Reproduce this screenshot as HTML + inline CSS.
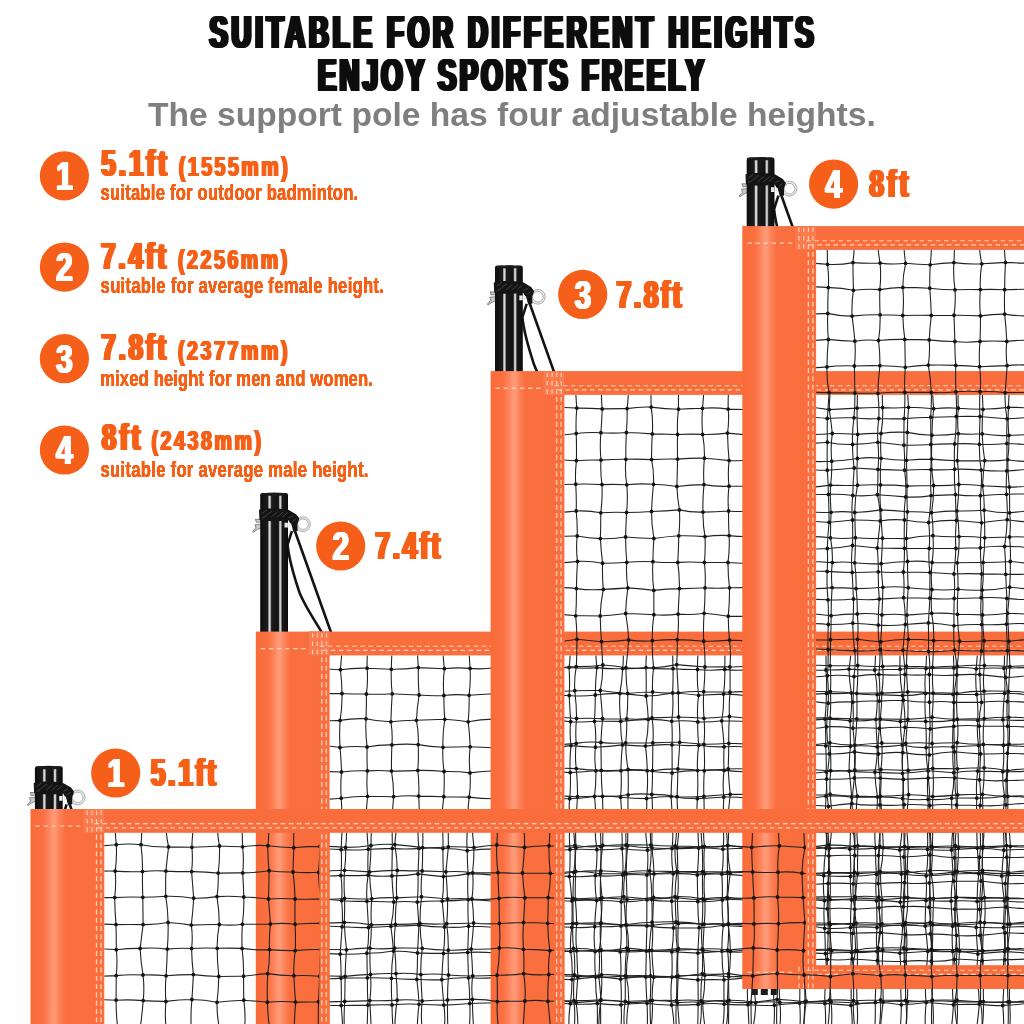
<!DOCTYPE html>
<html lang="en"><head><meta charset="utf-8"><title>Suitable for different heights</title>
<style>
html,body{margin:0;padding:0;background:#fff}
body{width:1024px;height:1024px;overflow:hidden}
svg{display:block}
text{font-family:"Liberation Sans",sans-serif;font-weight:700}
.ttl{fill:#0b0b0b}
.sub{fill:#7f7f7f}
.big{fill:#F65F19}
.desc{fill:#F65F19}
.num{fill:#fff;text-anchor:middle}
.ml{fill:none;stroke:#222;stroke-width:1.1}
.mk{fill:none;stroke:#141414;stroke-width:3.8;stroke-linecap:round}
.st{fill:none;stroke:#FFD6C2;stroke-width:1.15;stroke-dasharray:4.4 3.7}
.sv{fill:none;stroke:#FFD6C2;stroke-width:1.25;stroke-dasharray:4.9 3.4}
.sc{fill:none;stroke:#FFD6C2;stroke-width:1.1}
</style></head>
<body>
<svg width="1024" height="1024" viewBox="0 0 1024 1024">
<defs>
<clipPath id="c1"><rect x="329.6" y="655.4" width="694.4" height="368.6"/></clipPath>
<clipPath id="p1"><rect x="235.8" y="488.4" width="140" height="144.2"/></clipPath>
<clipPath id="c2"><rect x="564.4" y="394.9" width="459.6" height="629.1"/></clipPath>
<clipPath id="p2"><rect x="470.6" y="261" width="140" height="111.1"/></clipPath>
<clipPath id="c3"><rect x="816.1" y="249.9" width="207.9" height="715.3"/></clipPath>
<clipPath id="p3"><rect x="722.3" y="152.9" width="140" height="74.2"/></clipPath>
<clipPath id="c4"><rect x="104.3" y="832.8" width="919.7" height="191.2"/></clipPath>
<clipPath id="p4"><rect x="10.5" y="761.6" width="140" height="48.4"/></clipPath>
<linearGradient id="sg1" gradientUnits="userSpaceOnUse" x1="30.5" y1="0" x2="104.3" y2="0"><stop offset="0" stop-color="#F96B39"/><stop offset="0.17" stop-color="#FA7041"/><stop offset="0.25" stop-color="#FD855D"/><stop offset="0.30" stop-color="#FF9875"/><stop offset="0.335" stop-color="#FF9875"/><stop offset="0.39" stop-color="#FC8259"/><stop offset="0.47" stop-color="#FA6F3F"/><stop offset="1" stop-color="#FA6E3D"/></linearGradient>
<linearGradient id="sg2" gradientUnits="userSpaceOnUse" x1="255.8" y1="0" x2="329.6" y2="0"><stop offset="0" stop-color="#F96B39"/><stop offset="0.17" stop-color="#FA7041"/><stop offset="0.25" stop-color="#FD855D"/><stop offset="0.30" stop-color="#FF9875"/><stop offset="0.335" stop-color="#FF9875"/><stop offset="0.39" stop-color="#FC8259"/><stop offset="0.47" stop-color="#FA6F3F"/><stop offset="1" stop-color="#FA6E3D"/></linearGradient>
<linearGradient id="sg3" gradientUnits="userSpaceOnUse" x1="490.6" y1="0" x2="564.4" y2="0"><stop offset="0" stop-color="#F96B39"/><stop offset="0.17" stop-color="#FA7041"/><stop offset="0.25" stop-color="#FD855D"/><stop offset="0.30" stop-color="#FF9875"/><stop offset="0.335" stop-color="#FF9875"/><stop offset="0.39" stop-color="#FC8259"/><stop offset="0.47" stop-color="#FA6F3F"/><stop offset="1" stop-color="#FA6E3D"/></linearGradient>
<linearGradient id="sg4" gradientUnits="userSpaceOnUse" x1="742.3" y1="0" x2="816.1" y2="0"><stop offset="0" stop-color="#F96B39"/><stop offset="0.17" stop-color="#FA7041"/><stop offset="0.25" stop-color="#FD855D"/><stop offset="0.30" stop-color="#FF9875"/><stop offset="0.335" stop-color="#FF9875"/><stop offset="0.39" stop-color="#FC8259"/><stop offset="0.47" stop-color="#FA6F3F"/><stop offset="1" stop-color="#FA6E3D"/></linearGradient>
<linearGradient id="pg" x1="0" y1="0" x2="1" y2="0"><stop offset="0" stop-color="#0e0e0e"/><stop offset=".27" stop-color="#1b1b1b"/><stop offset=".32" stop-color="#d9d9d9"/><stop offset=".355" stop-color="#d9d9d9"/><stop offset=".41" stop-color="#1b1b1b"/><stop offset=".655" stop-color="#111"/><stop offset=".705" stop-color="#cfcfcf"/><stop offset=".74" stop-color="#cfcfcf"/><stop offset=".79" stop-color="#1a1a1a"/><stop offset="1" stop-color="#0b0b0b"/></linearGradient>
<g id="pole">
<path d="M36.1 38.8L31.8 52.2C33 66 37 80 43.2 98.8C47 110 56 124 65.7 139.3L92 187" fill="none" stroke="#141414" stroke-width="2.6" stroke-linejoin="round"/>
<path d="M39.2 38.8L75 139.3L102 215" fill="none" stroke="#141414" stroke-width="2.6"/>
<circle cx="47.2" cy="31.8" r="6.4" fill="none" stroke="#ededed" stroke-width="2.2"/>
<circle cx="47.2" cy="31.8" r="7.4" fill="none" stroke="#8c8c8c" stroke-width=".7"/>
<circle cx="47.2" cy="31.8" r="5.3" fill="none" stroke="#8c8c8c" stroke-width=".7"/>
<path d="M-.4 26.8l5.6.4v2.4l-4.6.3z M-.8 32.2l6-.4.2 3.8-3.6 1.4-4.4 3-.7-.9 3.4-3.6z" fill="#c9c9c9" stroke="#5e5e5e" stroke-width=".7"/>
<rect x="4.4" y=".6" width="27.8" height="250" rx="2.2" fill="url(#pg)"/>
<ellipse cx="18.3" cy="1.9" rx="13.2" ry="1.7" fill="#1a1a1a"/>
<path d="M3.2 17.4C10 15.4 26 15.6 33 17.6L40.5 22 43.6 26.2 41.6 31.5 41.8 38.6 37.5 39.5 36 33.5 32.4 27.6C24 29.2 10 29.4 3.6 27.4z" fill="#141414"/>
<path d="M6 21l5-3.4M10.5 23l6-4.6M15.5 24.6l6.4-5.2M21 25l6.4-5.4M26.5 24.6l5.6-4.6M6 26l4.4-2.6M33 25.4l4.6-2M36.8 29l3.6-2.4" fill="none" stroke="#474747" stroke-width=".9"/>
<path d="M28.7 30.4h3.4v4.8h-3.4z M33.1 31.2h2.5v3.2h-2.5z" fill="#e9e9e9"/>
</g>
<filter id="idf" x="-2%" y="-20%" width="104%" height="140%"><feOffset dx="0" dy="0"/></filter>
<filter id="fat40" x="-25%" y="-10%" width="150%" height="120%"><feOffset in="SourceGraphic" dx="-0.4" result="a"/><feOffset in="SourceGraphic" dx="-0.2" result="b"/><feOffset in="SourceGraphic" dx="0.2" result="c"/><feOffset in="SourceGraphic" dx="0.4" result="d"/><feMerge><feMergeNode in="a"/><feMergeNode in="b"/><feMergeNode in="SourceGraphic"/><feMergeNode in="c"/><feMergeNode in="d"/></feMerge></filter>
<filter id="fat90" x="-25%" y="-10%" width="150%" height="120%"><feOffset in="SourceGraphic" dx="-0.9" result="a"/><feOffset in="SourceGraphic" dx="-0.45" result="b"/><feOffset in="SourceGraphic" dx="0.45" result="c"/><feOffset in="SourceGraphic" dx="0.9" result="d"/><feMerge><feMergeNode in="a"/><feMergeNode in="b"/><feMergeNode in="SourceGraphic"/><feMergeNode in="c"/><feMergeNode in="d"/></feMerge></filter>
<filter id="fat100" x="-25%" y="-10%" width="150%" height="120%"><feOffset in="SourceGraphic" dx="-1" result="a"/><feOffset in="SourceGraphic" dx="-0.5" result="b"/><feOffset in="SourceGraphic" dx="0.5" result="c"/><feOffset in="SourceGraphic" dx="1" result="d"/><feMerge><feMergeNode in="a"/><feMergeNode in="b"/><feMergeNode in="SourceGraphic"/><feMergeNode in="c"/><feMergeNode in="d"/></feMerge></filter>
<filter id="fat150" x="-25%" y="-10%" width="150%" height="120%"><feOffset in="SourceGraphic" dx="-1.5" result="a"/><feOffset in="SourceGraphic" dx="-0.75" result="b"/><feOffset in="SourceGraphic" dx="0.75" result="c"/><feOffset in="SourceGraphic" dx="1.5" result="d"/><feMerge><feMergeNode in="a"/><feMergeNode in="b"/><feMergeNode in="SourceGraphic"/><feMergeNode in="c"/><feMergeNode in="d"/></feMerge></filter>
<filter id="fat180" x="-25%" y="-10%" width="150%" height="120%"><feOffset in="SourceGraphic" dx="-1.8" result="a"/><feOffset in="SourceGraphic" dx="-0.9" result="b"/><feOffset in="SourceGraphic" dx="0.9" result="c"/><feOffset in="SourceGraphic" dx="1.8" result="d"/><feMerge><feMergeNode in="a"/><feMergeNode in="b"/><feMergeNode in="SourceGraphic"/><feMergeNode in="c"/><feMergeNode in="d"/></feMerge></filter>
</defs>
<rect width="1024" height="1024" fill="#fff"/>
<g clip-path="url(#p1)"><use href="#pole" x="255.8" y="492.4"/></g>
<g clip-path="url(#c1)"><path class="ml" d="M343 643.4Q341.4 656.6 340.4 669.7Q341.9 681.6 342 693.5Q342.3 706.9 340.1 720.4Q339.2 733.9 340 747.5Q341.2 759.7 341.5 772Q340.3 785.1 341.2 798.2Q341.8 810.5 342.8 822.9Q341.5 836.2 341.1 849.6Q342 862.5 340.9 875.4Q342.6 888 341.6 900.7Q343 913.7 342.1 926.8Q341.2 940.4 340.2 954.1Q341.3 966.1 341 978.1Q341.6 991.8 341.2 1005.5Q342.2 1017.7 342.9 1029.9Q340.9 1042.2 341.2 1054.4M368.2 641.8Q366.9 655 367.1 668.2Q368.2 681.1 366.4 694Q366.5 706.4 366 718.8Q365.3 732.9 367.1 747Q366.8 759 367.4 770.9Q366.3 783.6 367.6 796.3Q365.9 810.4 366.7 824.5Q367.1 836.9 368.3 849.2Q367.5 862.1 368.1 875.1Q366 888.1 367 901.2Q367.8 914.3 368.5 927.5Q369.1 940.4 366.9 953.2Q367 965.5 367.4 977.8Q367.3 991.5 367.9 1005.1Q367.2 1018.2 367.3 1031.3Q365.6 1043.5 365.4 1055.7M392.8 642.4Q391.5 655.9 391.3 669.3Q390.8 681.5 392.2 693.8Q391.3 707.8 390.9 721.8Q392.8 733.3 391.9 744.9Q391.3 758 391.5 771.1Q393.7 783.9 393.6 796.7Q392.6 809.4 391.7 822.2Q392.4 835.3 392.3 848.4Q392 862.1 391.9 875.9Q392.5 888.9 393.8 902Q393.6 914.1 390.9 926.3Q392.5 938.7 393.5 951Q391.5 964.6 391.5 978.3Q391.1 991.6 392 1004.9Q392.2 1017.3 393.1 1029.8Q392.6 1042.3 391.6 1054.8M417.1 641.5Q417.3 654.6 418.4 667.6Q418 681.3 419.1 695Q417.1 707.6 416.4 720.3Q418.9 732.5 418.2 744.6Q418.8 757.5 417.8 770.4Q419.4 783.3 418.7 796.1Q419.8 810.6 418.3 825.1Q417.5 836.8 419 848.4Q418.6 861.2 418 873.9Q418.4 888 417.3 902.1Q418.1 913.6 418.9 925.1Q418.3 939 417.5 952.9Q417.6 966.1 416.8 979.3Q418.4 991.8 419.1 1004.3Q417.2 1017.6 417.4 1031Q416.2 1042.9 417.9 1054.7M442.6 641.8Q442.8 655.3 444.4 668.7Q442.7 682.1 443.9 695.5Q443.8 707.4 444.8 719.3Q442.4 733.3 443 747.3Q442.3 759.4 444.1 771.5Q444.5 784.1 443.8 796.7Q442 809.4 442.2 822.1Q443.3 835.3 442.9 848.5Q442.9 862.5 443.4 876.6Q443.8 888.8 442.2 901.1Q443.5 914 444.5 927Q445.1 940.2 443.4 953.4Q442.3 966.5 441.8 979.7Q442.6 992.4 443.9 1005.1Q445.5 1016.8 444.3 1028.6Q443.7 1041.6 441.9 1054.7M468.8 644.3Q469.2 656.4 470.1 668.4Q470.8 681.8 469.1 695.3Q469.4 708.5 468.2 721.8Q469.7 734.3 470.2 746.8Q468.6 759.8 470 772.9Q470.9 785 469.2 797.1Q467.4 809.9 468.1 822.7Q466.1 836.7 467.3 850.7Q467.2 862.1 468.1 873.6Q467.2 886.6 468.2 899.6Q467.5 912.9 468.6 926.2Q468.1 939.3 467.7 952.4Q468.1 965.1 468.5 977.8Q469.7 990.7 469.8 1003.5Q470.5 1017.3 468.9 1031.1Q470.2 1043.2 470.2 1055.3M492.7 644.3Q494.7 656.1 494.2 667.8Q493.4 680.7 493 693.7Q492.2 706.4 493.6 719.1Q493.8 733.4 492.8 747.7Q495.6 759.2 495.2 770.7Q493.6 784.7 494.1 798.7Q494.5 810.4 494.2 822.1Q493.6 835.5 493.7 848.9Q496.2 862.1 495.5 875.4Q493.3 888.3 494.1 901.3Q493.3 914.3 492.8 927.3Q493.5 940.2 495.2 953Q494.1 965.3 493.8 977.6Q494 990.2 492.6 1002.8Q491.3 1016.3 493.1 1029.8Q493.4 1042.3 495.1 1054.8M519.6 643.3Q521.3 655.3 520.1 667.2Q520.4 681 521 694.8Q518.5 707.1 519 719.5Q520 733.5 520.3 747.5Q520.2 759.5 519.1 771.6Q520.9 784.1 519.8 796.7Q520.8 810.7 519.3 824.8Q521 837.6 519.8 850.3Q518.6 863.3 518.9 876.3Q519.1 888.2 520.6 900Q520.8 913.7 519.7 927.3Q519.3 940.1 519.9 952.8Q519 965.6 518.8 978.5Q517.5 991.8 519.2 1005.1Q518.2 1018.2 519.2 1031.4Q518.4 1043.1 519.9 1054.8M544.8 641.7Q544.9 654.5 545.9 667.2Q546.3 680.6 545.4 693.9Q544.7 706.5 546 719.1Q545.2 732.9 545.7 746.8Q543.6 758.8 544.2 770.7Q544.2 784.4 544.7 798.2Q544.8 810.1 544.3 821.9Q544.9 836.1 544.9 850.3Q544.9 863.4 544 876.5Q544.7 888.2 545.1 899.8Q545.1 913.1 543.8 926.3Q545.4 938.9 545 951.5Q545.5 964.9 543.8 978.3Q542.4 991.1 544.3 1003.9Q546 1017.2 544.9 1030.5Q545.1 1042.7 545.3 1054.8M569.5 644Q570.9 655.8 569.1 667.5Q570 681.5 569.2 695.5Q569.8 708.6 570.7 721.7Q569.4 733.6 571 745.6Q569.4 759.1 570.3 772.6Q570.9 785.7 569.7 798.7Q568.4 810.4 570.3 822Q568.7 835.8 570 849.5Q570.4 862.9 569.4 876.4Q571 888.7 571.9 900.9Q572.4 914.1 571.8 927.3Q569.9 939.4 570.7 951.4Q572.8 965.5 572 979.6Q572 991.7 570.4 1003.7Q568.2 1017 569.2 1030.3Q570.7 1042.8 571.7 1055.3M595.3 643.3Q595.6 655.5 596.9 667.6Q595.3 681.3 595.3 695Q595.3 708.1 594.5 721.3Q596.5 734.2 595.4 747.2Q594.1 759 595.9 770.8Q596.1 783.6 594.5 796.5Q596.2 810.4 595.2 824.3Q594.8 837 596.9 849.7Q597.4 862.7 595.4 875.6Q594.5 888.1 596.7 900.5Q595.1 913.5 594.7 926.6Q593.4 939.1 595.1 951.5Q594.3 964.2 595.6 976.9Q595.4 990.2 597.3 1003.4Q597.5 1017 597.3 1030.7Q595.6 1043.8 594.4 1057M622.4 643Q624.1 655.8 622.7 668.6Q622.1 681 619.9 693.4Q619 707.4 620.8 721.4Q620.3 733.2 622.5 744.9Q621 757.8 621 770.7Q621.8 783.9 620.6 797.2Q621.8 809.8 621.2 822.4Q622.6 835.4 622 848.5Q623.5 861.8 622.7 875Q622.7 888.4 621.2 901.8Q621.3 913.8 621 925.9Q621.7 938.9 620.2 951.8Q621.5 965.4 620.6 979.1Q621.8 991.9 621 1004.8Q622.1 1016.6 620.7 1028.5Q620.9 1041.9 620.8 1055.4M648.2 641.9Q645.8 654.8 646 667.6Q646.4 681.8 646.1 696Q647.8 707.7 648.3 719.4Q648.3 732.7 645.5 746.1Q647.1 758.4 647.2 770.7Q648.2 784.6 646.6 798.6Q647.3 811.4 645.3 824.2Q645.8 837.2 647.5 850.2Q648.5 862.6 646.9 875Q647.1 887.4 647 899.7Q646.7 912.8 646.9 925.9Q646.5 938.5 646.3 951Q646.1 964 645.8 976.9Q646.1 990.1 647 1003.3Q647.8 1016.6 647.1 1029.9Q645.8 1042.2 646 1054.5M672.7 643.5Q672.6 656.1 673 668.7Q673.3 680.9 672.6 693Q673.7 707.1 671.7 721.3Q672.6 733 672 744.8Q672.2 758.9 672.1 773Q671.2 784.7 671.1 796.5Q672.2 810.6 672.3 824.7Q673.5 836.6 672 848.5Q671.1 861.1 673.2 873.8Q672.1 887.5 671.7 901.2Q671.9 914.5 673.5 927.9Q673.5 939.8 671.8 951.8Q672.4 964.4 671.9 977.1Q670.2 991 671.6 1005Q674 1017.1 673.9 1029.2Q672.1 1042.8 671 1056.5M699.3 643.8Q697.2 656.7 697.5 669.5Q696.8 682.4 698.6 695.3Q696.8 708.6 697.8 721.9Q697.4 733.6 698.7 745.3Q696.8 757.9 697.6 770.6Q698.1 784.7 697.4 798.7Q696.4 811.1 697.8 823.6Q698 835.8 698.7 848Q698.5 861.5 697.3 875Q697.4 888.3 697.8 901.5Q697.8 914.6 699.2 927.7Q698.4 940.4 697.9 953.1Q697.8 966.5 697.9 979.9Q698.3 992.1 698.1 1004.4Q698.1 1017 697.5 1029.6Q697.5 1042.5 698.6 1055.3M724.5 643.6Q725.2 656.5 724.7 669.4Q725.2 681.7 723.5 694.1Q724.1 707.4 721.7 720.8Q723.3 733.8 724.1 746.8Q723.4 758.6 724.1 770.4Q722.4 783.7 723.8 797Q723.1 810.8 722.9 824.7Q724.5 836.9 722.9 849.2Q723.9 861.6 721.8 874.1Q722.7 887 722.3 900Q721.8 912.6 723.3 925.3Q721.7 938.2 721.9 951.2Q721.9 965.5 724 979.8Q723.8 992 724.1 1004.1Q724.5 1017.5 722.1 1030.8Q721.1 1042.6 722.1 1054.3M748.7 644.1Q749.4 657 748.1 669.9Q748.3 682.9 748.2 696Q748.1 708.7 749.5 721.5Q749.7 734.3 750.3 747.1Q747.6 759.5 747.7 772Q748.7 785.2 748.8 798.4Q749.6 811.1 747.8 823.7Q747.4 836 748 848.3Q749.8 862.2 748.5 876.1Q748 888.3 748.9 900.4Q747.9 913.3 747.8 926.2Q748.7 939 748.4 951.8Q747.3 964.6 748.1 977.4Q746.6 991 748 1004.7Q748.6 1017.5 749.1 1030.3Q749.5 1043.3 750.1 1056.2M773 642.6Q772.5 656 774.2 669.5Q773.2 681.3 774.2 693.2Q772.9 707 774.1 720.8Q773.6 733.4 775.1 745.9Q773 758.2 773.2 770.4Q774.2 784.5 774.2 798.5Q774.8 811 772.9 823.6Q774 836.5 774.5 849.5Q773 861.6 773.3 873.8Q773.1 887 772.6 900.3Q775.5 913.4 775.4 926.4Q775.1 940 775.7 953.5Q775.8 965.8 774.4 978.1Q772.8 991.6 774.3 1005.2Q774.8 1017 773.6 1028.8Q775.7 1042.5 775.4 1056.1M799.2 642.6Q798.9 655.7 798.3 668.9Q800.7 681.7 800.5 694.5Q800.7 707.8 800.2 721.1Q800.5 733.8 799.1 746.5Q800.1 759.6 801.1 772.6Q799.5 785.4 798.6 798.2Q798.6 811.3 800.1 824.4Q800.3 837.5 800.2 850.6Q801.6 862.4 801.1 874.2Q798.8 886.8 799.5 899.4Q800.9 912.4 801.2 925.4Q798.8 939.2 799.4 952.9Q799.8 965.1 799.4 977.2Q800.2 990.2 799.6 1003.2Q800.9 1016.9 799.6 1030.6Q799.8 1043.1 799 1055.5M825.5 643Q826.2 656.5 826 670Q826.9 681.7 826.5 693.4Q826.3 706.3 825 719.1Q826 732.4 825.7 745.8Q826.5 758.8 826.2 771.8Q827.2 784 826 796.2Q825.3 809.7 825.4 823.2Q827.2 835.6 826.1 848Q823.9 861.9 823.7 875.7Q822.7 888.2 824.5 900.7Q823.2 914.5 824.7 928.3Q825.2 940.9 825.4 953.6Q826.9 966.5 826.1 979.4Q824.3 991.4 824.9 1003.4Q826.2 1017.3 825.1 1031.2Q825.7 1043.4 826.3 1055.6M851.8 643.7Q850.9 656.4 849 669.1Q849.2 681.1 851.4 693Q852.4 706.9 850.1 720.8Q850.2 733.5 850.5 746.2Q849 758.7 849.2 771.1Q850.8 784.2 851.7 797.2Q849.6 810.5 850.4 823.8Q850.6 836.4 849.8 849Q851.2 862.7 850.5 876.3Q849.9 888.1 851.6 899.9Q850.3 913.7 850.5 927.5Q850.4 940.1 851.8 952.6Q850.4 965.7 850.9 978.8Q851.4 992.1 851 1005.4Q852.6 1018.4 852.1 1031.5Q850.5 1043.9 849.3 1056.4M875.6 642.2Q875.8 656.1 874.7 670Q877.2 682.3 877.2 694.6Q877.6 707 875.9 719.4Q876.2 733.1 877.3 746.9Q877.4 759.5 874.9 772.1Q875.2 784.5 877.5 796.9Q877.6 810 875.5 823.1Q874.2 835.6 875.5 848.1Q875.4 861.2 876.4 874.3Q875.2 887.5 876.5 900.8Q877 914.1 877 927.5Q875.8 939.4 877.1 951.4Q877.3 965.3 876.9 979.2Q875 990.8 875.3 1002.5Q875.5 1016.6 874.7 1030.8Q876 1042.5 877.4 1054.3M900.6 642.6Q899.7 655.9 900 669.2Q900.1 682.4 902.5 695.6Q902.3 708.6 900.4 721.6Q900.4 733.3 902.3 745Q901.9 759.1 902.5 773.3Q903.9 785.9 902.6 798.5Q903.7 811.1 902.4 823.6Q901.8 836.7 899.8 849.9Q901.1 861.9 901.4 874Q901.9 888.1 900.2 902.1Q902.5 913.7 902.7 925.3Q902.3 939.2 899.9 953.1Q901.1 966.3 900.7 979.5Q900.7 992.1 901.3 1004.8Q901.4 1017.8 899.9 1030.8Q899.9 1043.1 900.4 1055.5M926.8 642.3Q926.6 655.4 926 668.5Q924.2 681 925.4 693.4Q924.4 707.4 925.7 721.4Q926.5 734.5 926.2 747.6Q925.9 759.2 928.1 770.8Q926.8 785 928 799.3Q928.5 811.4 926.7 823.4Q928.3 836.4 927.4 849.3Q928.3 862.6 926.1 875.8Q926.9 888.2 926 900.5Q925 913.3 925.3 926.1Q926.9 938.7 927.8 951.3Q926.9 964.7 925.9 978Q924.7 990.2 926.2 1002.5Q924.7 1015.7 925.4 1028.9Q927 1042.8 927.8 1056.6M953.3 643.5Q953.3 655.7 953.9 667.9Q953.7 681.1 953 694.3Q954.7 707.2 953.8 720.1Q952 733.5 953 747Q952.3 759.9 953.8 772.7Q954.3 785.5 951.7 798.2Q951.3 811.5 953.2 824.9Q951.9 837.5 951.5 850Q952.4 862 953 874Q951.3 887.6 951.1 901.1Q951.5 913.6 952.6 926.2Q951.6 938.8 952.7 951.4Q953.6 964.9 952.5 978.4Q952.1 991.6 953.4 1004.8Q952.9 1017.4 951 1030.1Q950.9 1042.9 951.1 1055.8M978.3 643.6Q977.3 656.2 976.2 668.8Q975.1 681.7 976.7 694.5Q978.5 707.4 977.7 720.3Q976.6 732.9 978.6 745.5Q979.3 758.3 977.7 771.1Q975.7 784.6 976.8 798.1Q976.3 811.3 976.7 824.5Q976.8 836.3 977.3 848.1Q978.4 860.8 978.7 873.6Q977.1 887.5 977.1 901.4Q978.2 914.4 976.2 927.3Q976.6 940.7 977.9 954Q976.7 966.7 977.2 979.4Q979 991.7 979.3 1004.1Q978.3 1016.7 976.4 1029.4Q977.9 1041.7 978.8 1054.1M1003.6 643Q1005.2 655.6 1004 668.3Q1005.5 680.8 1004.6 693.3Q1003.1 706.5 1002.9 719.7Q1004.4 732.4 1003.4 745.2Q1004.4 758.5 1002.8 771.7Q1002.3 784 1004.6 796.2Q1003.6 809.3 1002.5 822.4Q1004.4 836.3 1003.9 850.2Q1002.5 863.1 1001.7 876Q1002.5 888.4 1004.4 900.8Q1003.9 914.2 1003.5 927.6Q1005.1 939.6 1004.6 951.6Q1002.7 964.3 1003.9 977Q1003.8 991.2 1002.8 1005.4Q1003.9 1017.7 1003.6 1030Q1004.8 1042.8 1003 1055.6M1027.1 643.1Q1029.1 655.3 1030.1 667.5Q1027.9 681.2 1027.2 694.9Q1028.9 707.5 1029.7 720.1Q1029.2 733.3 1027.3 746.6Q1027 758.8 1029.2 771Q1030.3 784.4 1029.7 797.8Q1029.9 810.2 1029.6 822.7Q1029.2 836.2 1028.2 849.8Q1029.2 863 1029.2 876.2Q1030 888.9 1030.1 901.6Q1027.5 914.1 1027.1 926.6Q1027 940 1029.2 953.4Q1027 965.1 1028.1 976.9Q1027.9 990 1028.9 1003.1Q1027.9 1016.1 1028.7 1029Q1029.6 1041.6 1029.9 1054.2M314.5 670.3Q327.4 668.7 340.4 669.7Q353.7 667.8 367.1 668.2Q379.2 668.8 391.3 669.3Q404.9 669.4 418.4 667.6Q431.4 668.1 444.4 668.7Q457.2 667.2 470.1 668.4Q482.2 669.5 494.2 667.8Q507.2 667.7 520.1 667.2Q533 668.5 545.9 667.2Q557.5 668.2 569.1 667.5Q583 668.9 596.9 667.6Q609.8 669.2 622.7 668.6Q634.3 668.9 646 667.6Q659.5 669.3 673 668.7Q685.2 669.7 697.5 669.5Q711.1 670.9 724.7 669.4Q736.4 670.9 748.1 669.9Q761.2 668.6 774.2 669.5Q786.3 669.1 798.3 668.9Q812.2 670.9 826 670Q837.5 670.1 849 669.1Q861.8 670 874.7 670Q887.3 669.3 900 669.2Q913 667.5 926 668.5Q940 668 953.9 667.9Q965 666.8 976.2 668.8Q990.1 667.5 1004 668.3Q1017 667.8 1030.1 667.5Q1042.3 667.3 1054.6 667.6M315 693.3Q328.5 693.8 342 693.5Q354.2 694.1 366.4 694Q379.3 694.7 392.2 693.8Q405.6 694.6 419.1 695Q431.5 696.2 443.9 695.5Q456.5 693.9 469.1 695.3Q481.1 694.3 493 693.7Q507 695.6 521 694.8Q533.2 695.1 545.4 693.9Q557.3 695.8 569.2 695.5Q582.2 696.8 595.3 695Q607.6 693.1 619.9 693.4Q633 694.6 646.1 696Q659.4 695.7 672.6 693Q685.6 693.6 698.6 695.3Q711.1 694.7 723.5 694.1Q735.8 694 748.2 696Q761.2 693.2 774.2 693.2Q787.4 695.2 800.5 694.5Q813.5 694.7 826.5 693.4Q839 694.1 851.4 693Q864.3 695.1 877.2 694.6Q889.9 695.3 902.5 695.6Q914 695.6 925.4 693.4Q939.2 694.8 953 694.3Q964.8 694.3 976.7 694.5Q990.7 693.8 1004.6 693.3Q1015.9 693.1 1027.2 694.9Q1040.7 695 1054.3 695.5M316.5 719.8Q328.3 721.2 340.1 720.4Q353 718.1 366 718.8Q378.4 721.7 390.9 721.8Q403.7 720.1 416.4 720.3Q430.6 719.8 444.8 719.3Q456.5 719.9 468.2 721.8Q480.9 719 493.6 719.1Q506.3 719.7 519 719.5Q532.5 718.3 546 719.1Q558.3 720.1 570.7 721.7Q582.6 722.6 594.5 721.3Q607.7 721.2 620.8 721.4Q634.6 719.9 648.3 719.4Q660 719.2 671.7 721.3Q684.8 720 697.8 721.9Q709.7 722.3 721.7 720.8Q735.6 721.1 749.5 721.5Q761.8 720.5 774.1 720.8Q787.2 721.8 800.2 721.1Q812.6 720.2 825 719.1Q837.6 719.1 850.1 720.8Q863 721.5 875.9 719.4Q888.2 720.2 900.4 721.6Q913 721 925.7 721.4Q939.7 722.3 953.8 720.1Q965.8 719.9 977.7 720.3Q990.3 719.9 1002.9 719.7Q1016.3 720.9 1029.7 720.1Q1042.1 721.3 1054.5 721.6M317.3 745.2Q328.6 745.6 340 747.5Q353.5 745.8 367.1 747Q379.5 744.6 391.9 744.9Q405.1 743.6 418.2 744.6Q430.6 746.7 443 747.3Q456.6 746.7 470.2 746.8Q481.5 747.4 492.8 747.7Q506.5 746.9 520.3 747.5Q533 745.7 545.7 746.8Q558.3 747.7 571 745.6Q583.2 746.9 595.4 747.2Q609 746.6 622.5 744.9Q634 745.9 645.5 746.1Q658.7 744 672 744.8Q685.3 746.1 698.7 745.3Q711.4 747.2 724.1 746.8Q737.2 746.1 750.3 747.1Q762.7 747.7 775.1 745.9Q787.1 747.7 799.1 746.5Q812.4 745.1 825.7 745.8Q838.1 747.3 850.5 746.2Q863.9 745.1 877.3 746.9Q889.8 746.8 902.3 745Q914.3 747.8 926.2 747.6Q939.6 746.2 953 747Q965.8 746 978.6 745.5Q991 743.8 1003.4 745.2Q1015.4 746 1027.3 746.6Q1041.2 744.7 1055.1 745.7M317.5 771.3Q329.5 771.6 341.5 772Q354.5 770.5 367.4 770.9Q379.5 770 391.5 771.1Q404.6 771.3 417.8 770.4Q431 770.1 444.1 771.5Q457.1 771.1 470 772.9Q482.6 771.1 495.2 770.7Q507.2 770.7 519.1 771.6Q531.7 771.7 544.2 770.7Q557.3 771.9 570.3 772.6Q583.1 772 595.9 770.8Q608.4 771.4 621 770.7Q634.1 769.9 647.2 770.7Q659.6 772.4 672.1 773Q684.8 770.4 697.6 770.6Q710.8 769.2 724.1 770.4Q735.9 771.4 747.7 772Q760.5 771.7 773.2 770.4Q787.2 770.8 801.1 772.6Q813.6 773.8 826.2 771.8Q837.7 770.3 849.2 771.1Q862 772.6 874.9 772.1Q888.7 772.8 902.5 773.3Q915.3 772.4 928.1 770.8Q941 771.6 953.8 772.7Q965.7 770.5 977.7 771.1Q990.3 771.2 1002.8 771.7Q1016 772 1029.2 771Q1041 772.6 1052.9 772.5M316.4 799.1Q328.8 799.7 341.2 798.2Q354.4 796.6 367.6 796.3Q380.6 796.5 393.6 796.7Q406.1 795.2 418.7 796.1Q431.3 796.2 443.8 796.7Q456.5 796.7 469.2 797.1Q481.7 798.8 494.1 798.7Q507 796.4 519.8 796.7Q532.3 796 544.7 798.2Q557.2 798.8 569.7 798.7Q582.1 798.5 594.5 796.5Q607.5 795.5 620.6 797.2Q633.6 798.5 646.6 798.6Q658.9 796.4 671.1 796.5Q684.2 798.7 697.4 798.7Q710.6 798.3 723.8 797Q736.3 796.8 748.8 798.4Q761.5 798.1 774.2 798.5Q786.4 799.4 798.6 798.2Q812.3 798.6 826 796.2Q838.8 795.2 851.7 797.2Q864.6 796.9 877.5 796.9Q890.1 796.5 902.6 798.5Q915.3 800.4 928 799.3Q939.9 800.2 951.7 798.2Q964.3 797.9 976.8 798.1Q990.7 798.3 1004.6 796.2Q1017.1 796.2 1029.7 797.8Q1041.8 799.4 1054 798.7M316.6 824.9Q329.7 822.9 342.8 822.9Q354.7 823.1 366.7 824.5Q379.2 823.5 391.7 822.2Q405 824.4 418.3 825.1Q430.2 823.5 442.2 822.1Q455.1 821.1 468.1 822.7Q481.1 820.9 494.2 822.1Q506.8 822.4 519.3 824.8Q531.8 822.7 544.3 821.9Q557.3 822.5 570.3 822Q582.7 822.2 595.2 824.3Q608.2 824.7 621.2 822.4Q633.2 823.8 645.3 824.2Q658.8 823.8 672.3 824.7Q685.1 824.4 697.8 823.6Q710.3 825.2 722.9 824.7Q735.4 823.4 747.8 823.7Q760.4 824.2 772.9 823.6Q786.5 824.4 800.1 824.4Q812.7 824.8 825.4 823.2Q837.9 824 850.4 823.8Q863 822 875.5 823.1Q889 824.5 902.4 823.6Q914.5 822.6 926.7 823.4Q940 824.5 953.2 824.9Q965 823.5 976.7 824.5Q989.6 824.3 1002.5 822.4Q1016 823.6 1029.6 822.7Q1041.7 824.4 1053.9 824.2M316.7 847.9Q328.9 849.3 341.1 849.6Q354.7 850.7 368.3 849.2Q380.3 848.9 392.3 848.4Q405.6 849.5 419 848.4Q430.9 847.7 442.9 848.5Q455.1 848.4 467.3 850.7Q480.5 848.9 493.7 848.9Q506.8 849.3 519.8 850.3Q532.4 851.2 544.9 850.3Q557.5 850.8 570 849.5Q583.5 849 596.9 849.7Q609.4 850 622 848.5Q634.7 850.6 647.5 850.2Q659.7 849 672 848.5Q685.3 848.8 698.7 848Q710.8 847.9 722.9 849.2Q735.5 848.4 748 848.3Q761.2 848 774.5 849.5Q787.4 849.5 800.2 850.6Q813.2 848 826.1 848Q838 848.2 849.8 849Q862.7 849.5 875.5 848.1Q887.7 848 899.8 849.9Q913.6 848.7 927.4 849.3Q939.4 850.9 951.5 850Q964.4 848.6 977.3 848.1Q990.6 848.3 1003.9 850.2Q1016 848.9 1028.2 849.8Q1040.6 848.5 1053 850.1M317.3 875.4Q329.1 876.6 340.9 875.4Q354.5 876 368.1 875.1Q380 877 391.9 875.9Q404.9 876.1 418 873.9Q430.7 875.7 443.4 876.6Q455.7 876.5 468.1 873.6Q481.8 873.7 495.5 875.4Q507.2 876.5 518.9 876.3Q531.4 877.4 544 876.5Q556.7 875.3 569.4 876.4Q582.4 877.4 595.4 875.6Q609 876.8 622.7 875Q634.8 874.1 646.9 875Q660 873.3 673.2 873.8Q685.3 873.2 697.3 875Q709.6 873.6 721.8 874.1Q735.2 874.6 748.5 876.1Q760.9 875.9 773.3 873.8Q787.2 873.1 801.1 874.2Q812.4 874.1 823.7 875.7Q837.1 876.6 850.5 876.3Q863.4 876.3 876.4 874.3Q888.9 872.5 901.4 874Q913.7 875.8 926.1 875.8Q939.5 875.5 953 874Q965.8 873.2 978.7 873.6Q990.2 874.7 1001.7 876Q1015.4 874.7 1029.2 876.2Q1042.2 876 1055.3 876.1M315.4 899.9Q328.5 898.7 341.6 900.7Q354.3 901.7 367 901.2Q380.4 901.6 393.8 902Q405.6 901 417.3 902.1Q429.8 900.7 442.2 901.1Q455.2 900.6 468.2 899.6Q481.1 899.8 494.1 901.3Q507.3 901.5 520.6 900Q532.8 900.2 545.1 899.8Q558.5 901.2 571.9 900.9Q584.3 899.5 596.7 900.5Q609 900.2 621.2 901.8Q634.1 902.2 647 899.7Q659.3 901.2 671.7 901.2Q684.7 901.1 697.8 901.5Q710.1 902.3 722.3 900Q735.6 898.8 748.9 900.4Q760.7 900.7 772.6 900.3Q786.1 898.7 799.5 899.4Q812 899.5 824.5 900.7Q838 899.3 851.6 899.9Q864.1 900 876.5 900.8Q888.4 900 900.2 902.1Q913.1 900.3 926 900.5Q938.5 901.4 951.1 901.1Q964.1 900.2 977.1 901.4Q990.8 901.1 1004.4 900.8Q1017.2 902.7 1030.1 901.6Q1042.5 902.4 1055 901.4M317.2 927Q329.6 925.6 342.1 926.8Q355.3 927.9 368.5 927.5Q379.7 927.2 390.9 926.3Q404.9 925.8 418.9 925.1Q431.7 927 444.5 927Q456.5 928.1 468.6 926.2Q480.7 926.3 492.8 927.3Q506.3 928.3 519.7 927.3Q531.8 925.8 543.8 926.3Q557.8 927 571.8 927.3Q583.3 928.2 594.7 926.6Q607.8 927.2 621 925.9Q633.9 925.4 646.9 925.9Q660.2 928.1 673.5 927.9Q686.3 928 699.2 927.7Q711.3 927.7 723.3 925.3Q735.6 926.7 747.8 926.2Q761.6 926.2 775.4 926.4Q788.3 925.5 801.2 925.4Q812.9 925.7 824.7 928.3Q837.6 929.1 850.5 927.5Q863.8 926.3 877 927.5Q889.9 925 902.7 925.3Q914 925.1 925.3 926.1Q939 925 952.6 926.2Q964.4 925.9 976.2 927.3Q989.9 928.1 1003.5 927.6Q1015.3 926.5 1027.1 926.6Q1040.1 927.5 1053 926.2M317.5 953.4Q328.8 953.4 340.2 954.1Q353.5 954.8 366.9 953.2Q380.2 953.2 393.5 951Q405.5 951.2 417.5 952.9Q430.4 953.4 443.4 953.4Q455.5 953.5 467.7 952.4Q481.4 951.7 495.2 953Q507.5 951.5 519.9 952.8Q532.5 953.3 545 951.5Q557.8 949.9 570.7 951.4Q582.9 950.5 595.1 951.5Q607.7 950.5 620.2 951.8Q633.3 952.5 646.3 951Q659.1 951.9 671.8 951.8Q684.9 952.5 697.9 953.1Q709.9 952.1 721.9 951.2Q735.2 953 748.4 951.8Q762 951.7 775.7 953.5Q787.5 954.3 799.4 952.9Q812.4 952.6 825.4 953.6Q838.6 952.3 851.8 952.6Q864.4 952.6 877.1 951.4Q888.5 952 899.9 953.1Q913.8 952.5 927.8 951.3Q940.3 952 952.7 951.4Q965.3 951.3 977.9 954Q991.3 952.5 1004.6 951.6Q1016.9 952.2 1029.2 953.4Q1041.3 953.6 1053.4 951.8M317.5 978.5Q329.3 979.2 341 978.1Q354.2 977.8 367.4 977.8Q379.4 977.7 391.5 978.3Q404.1 979.7 416.8 979.3Q429.3 980.3 441.8 979.7Q455.1 977.3 468.5 977.8Q481.1 978.7 493.8 977.6Q506.3 979.2 518.8 978.5Q531.3 977.7 543.8 978.3Q557.9 979.5 572 979.6Q583.8 978.2 595.6 976.9Q608.1 977.2 620.6 979.1Q633.2 976.6 645.8 976.9Q658.9 977.1 671.9 977.1Q684.9 979.2 697.9 979.9Q711 979.5 724 979.8Q736 979.1 748.1 977.4Q761.3 976.7 774.4 978.1Q786.9 978.7 799.4 977.2Q812.8 979.1 826.1 979.4Q838.5 979.1 850.9 978.8Q863.9 977.7 876.9 979.2Q888.8 977.7 900.7 979.5Q913.3 978.4 925.9 978Q939.2 977.4 952.5 978.4Q964.8 977.4 977.2 979.4Q990.5 977.6 1003.9 977Q1016 978.3 1028.1 976.9Q1041.2 977.4 1054.4 977.9M316.7 1004.5Q328.9 1005.6 341.2 1005.5Q354.5 1005.1 367.9 1005.1Q379.9 1004.4 392 1004.9Q405.6 1003.5 419.1 1004.3Q431.5 1004.9 443.9 1005.1Q456.8 1004.9 469.8 1003.5Q481.2 1003.2 492.6 1002.8Q505.9 1003.8 519.2 1005.1Q531.7 1004.8 544.3 1003.9Q557.4 1002.9 570.4 1003.7Q583.8 1005 597.3 1003.4Q609.1 1005.2 621 1004.8Q634 1002.9 647 1003.3Q659.3 1005.3 671.6 1005Q684.9 1005.3 698.1 1004.4Q711.1 1002.8 724.1 1004.1Q736 1005.3 748 1004.7Q761.2 1005.9 774.3 1005.2Q787 1003.6 799.6 1003.2Q812.2 1002.4 824.9 1003.4Q838 1004.3 851 1005.4Q863.2 1002.5 875.3 1002.5Q888.3 1002.5 901.3 1004.8Q913.7 1004.3 926.2 1002.5Q939.8 1003.3 953.4 1004.8Q966.3 1004.1 979.3 1004.1Q991 1006.1 1002.8 1005.4Q1015.8 1005.2 1028.9 1003.1Q1041.8 1003.6 1054.6 1005.4M315.3 1031.4Q329.1 1029.2 342.9 1029.9Q355.1 1029.2 367.3 1031.3Q380.2 1031.1 393.1 1029.8Q405.3 1030.6 417.4 1031Q430.9 1031.4 444.3 1028.6Q456.6 1030 468.9 1031.1Q481 1030.8 493.1 1029.8Q506.2 1031.5 519.2 1031.4Q532.1 1031 544.9 1030.5Q557.1 1030.4 569.2 1030.3Q583.2 1030 597.3 1030.7Q609 1029.6 620.7 1028.5Q633.9 1029.9 647.1 1029.9Q660.5 1029.5 673.9 1029.2Q685.7 1030.2 697.5 1029.6Q709.8 1029.8 722.1 1030.8Q735.6 1030.9 749.1 1030.3Q761.4 1029.3 773.6 1028.8Q786.6 1029.9 799.6 1030.6Q812.3 1031.7 825.1 1031.2Q838.6 1030.1 852.1 1031.5Q863.4 1029.6 874.7 1030.8Q887.3 1029.9 899.9 1030.8Q912.7 1029 925.4 1028.9Q938.2 1028.4 951 1030.1Q963.7 1029.9 976.4 1029.4Q990 1029.6 1003.6 1030Q1016.2 1029.4 1028.7 1029Q1042.2 1029.5 1055.7 1028.3"/><path class="mk" d="M340.4 669.7h0M342 693.5h0M340.1 720.4h0M340 747.5h0M341.5 772h0M341.2 798.2h0M342.8 822.9h0M341.1 849.6h0M340.9 875.4h0M341.6 900.7h0M342.1 926.8h0M340.2 954.1h0M341 978.1h0M341.2 1005.5h0M367.1 668.2h0M366.4 694h0M366 718.8h0M367.1 747h0M367.4 770.9h0M367.6 796.3h0M366.7 824.5h0M368.3 849.2h0M368.1 875.1h0M367 901.2h0M368.5 927.5h0M366.9 953.2h0M367.4 977.8h0M367.9 1005.1h0M391.3 669.3h0M392.2 693.8h0M390.9 721.8h0M391.9 744.9h0M391.5 771.1h0M393.6 796.7h0M391.7 822.2h0M392.3 848.4h0M391.9 875.9h0M393.8 902h0M390.9 926.3h0M393.5 951h0M391.5 978.3h0M392 1004.9h0M418.4 667.6h0M419.1 695h0M416.4 720.3h0M418.2 744.6h0M417.8 770.4h0M418.7 796.1h0M418.3 825.1h0M419 848.4h0M418 873.9h0M417.3 902.1h0M418.9 925.1h0M417.5 952.9h0M416.8 979.3h0M419.1 1004.3h0M444.4 668.7h0M443.9 695.5h0M444.8 719.3h0M443 747.3h0M444.1 771.5h0M443.8 796.7h0M442.2 822.1h0M442.9 848.5h0M443.4 876.6h0M442.2 901.1h0M444.5 927h0M443.4 953.4h0M441.8 979.7h0M443.9 1005.1h0M470.1 668.4h0M469.1 695.3h0M468.2 721.8h0M470.2 746.8h0M470 772.9h0M469.2 797.1h0M468.1 822.7h0M467.3 850.7h0M468.1 873.6h0M468.2 899.6h0M468.6 926.2h0M467.7 952.4h0M468.5 977.8h0M469.8 1003.5h0M494.2 667.8h0M493 693.7h0M493.6 719.1h0M492.8 747.7h0M495.2 770.7h0M494.1 798.7h0M494.2 822.1h0M493.7 848.9h0M495.5 875.4h0M494.1 901.3h0M492.8 927.3h0M495.2 953h0M493.8 977.6h0M492.6 1002.8h0M520.1 667.2h0M521 694.8h0M519 719.5h0M520.3 747.5h0M519.1 771.6h0M519.8 796.7h0M519.3 824.8h0M519.8 850.3h0M518.9 876.3h0M520.6 900h0M519.7 927.3h0M519.9 952.8h0M518.8 978.5h0M519.2 1005.1h0M545.9 667.2h0M545.4 693.9h0M546 719.1h0M545.7 746.8h0M544.2 770.7h0M544.7 798.2h0M544.3 821.9h0M544.9 850.3h0M544 876.5h0M545.1 899.8h0M543.8 926.3h0M545 951.5h0M543.8 978.3h0M544.3 1003.9h0M569.1 667.5h0M569.2 695.5h0M570.7 721.7h0M571 745.6h0M570.3 772.6h0M569.7 798.7h0M570.3 822h0M570 849.5h0M569.4 876.4h0M571.9 900.9h0M571.8 927.3h0M570.7 951.4h0M572 979.6h0M570.4 1003.7h0M596.9 667.6h0M595.3 695h0M594.5 721.3h0M595.4 747.2h0M595.9 770.8h0M594.5 796.5h0M595.2 824.3h0M596.9 849.7h0M595.4 875.6h0M596.7 900.5h0M594.7 926.6h0M595.1 951.5h0M595.6 976.9h0M597.3 1003.4h0M622.7 668.6h0M619.9 693.4h0M620.8 721.4h0M622.5 744.9h0M621 770.7h0M620.6 797.2h0M621.2 822.4h0M622 848.5h0M622.7 875h0M621.2 901.8h0M621 925.9h0M620.2 951.8h0M620.6 979.1h0M621 1004.8h0M646 667.6h0M646.1 696h0M648.3 719.4h0M645.5 746.1h0M647.2 770.7h0M646.6 798.6h0M645.3 824.2h0M647.5 850.2h0M646.9 875h0M647 899.7h0M646.9 925.9h0M646.3 951h0M645.8 976.9h0M647 1003.3h0M673 668.7h0M672.6 693h0M671.7 721.3h0M672 744.8h0M672.1 773h0M671.1 796.5h0M672.3 824.7h0M672 848.5h0M673.2 873.8h0M671.7 901.2h0M673.5 927.9h0M671.8 951.8h0M671.9 977.1h0M671.6 1005h0M697.5 669.5h0M698.6 695.3h0M697.8 721.9h0M698.7 745.3h0M697.6 770.6h0M697.4 798.7h0M697.8 823.6h0M698.7 848h0M697.3 875h0M697.8 901.5h0M699.2 927.7h0M697.9 953.1h0M697.9 979.9h0M698.1 1004.4h0M724.7 669.4h0M723.5 694.1h0M721.7 720.8h0M724.1 746.8h0M724.1 770.4h0M723.8 797h0M722.9 824.7h0M722.9 849.2h0M721.8 874.1h0M722.3 900h0M723.3 925.3h0M721.9 951.2h0M724 979.8h0M724.1 1004.1h0M748.1 669.9h0M748.2 696h0M749.5 721.5h0M750.3 747.1h0M747.7 772h0M748.8 798.4h0M747.8 823.7h0M748 848.3h0M748.5 876.1h0M748.9 900.4h0M747.8 926.2h0M748.4 951.8h0M748.1 977.4h0M748 1004.7h0M774.2 669.5h0M774.2 693.2h0M774.1 720.8h0M775.1 745.9h0M773.2 770.4h0M774.2 798.5h0M772.9 823.6h0M774.5 849.5h0M773.3 873.8h0M772.6 900.3h0M775.4 926.4h0M775.7 953.5h0M774.4 978.1h0M774.3 1005.2h0M798.3 668.9h0M800.5 694.5h0M800.2 721.1h0M799.1 746.5h0M801.1 772.6h0M798.6 798.2h0M800.1 824.4h0M800.2 850.6h0M801.1 874.2h0M799.5 899.4h0M801.2 925.4h0M799.4 952.9h0M799.4 977.2h0M799.6 1003.2h0M826 670h0M826.5 693.4h0M825 719.1h0M825.7 745.8h0M826.2 771.8h0M826 796.2h0M825.4 823.2h0M826.1 848h0M823.7 875.7h0M824.5 900.7h0M824.7 928.3h0M825.4 953.6h0M826.1 979.4h0M824.9 1003.4h0M849 669.1h0M851.4 693h0M850.1 720.8h0M850.5 746.2h0M849.2 771.1h0M851.7 797.2h0M850.4 823.8h0M849.8 849h0M850.5 876.3h0M851.6 899.9h0M850.5 927.5h0M851.8 952.6h0M850.9 978.8h0M851 1005.4h0M874.7 670h0M877.2 694.6h0M875.9 719.4h0M877.3 746.9h0M874.9 772.1h0M877.5 796.9h0M875.5 823.1h0M875.5 848.1h0M876.4 874.3h0M876.5 900.8h0M877 927.5h0M877.1 951.4h0M876.9 979.2h0M875.3 1002.5h0M900 669.2h0M902.5 695.6h0M900.4 721.6h0M902.3 745h0M902.5 773.3h0M902.6 798.5h0M902.4 823.6h0M899.8 849.9h0M901.4 874h0M900.2 902.1h0M902.7 925.3h0M899.9 953.1h0M900.7 979.5h0M901.3 1004.8h0M926 668.5h0M925.4 693.4h0M925.7 721.4h0M926.2 747.6h0M928.1 770.8h0M928 799.3h0M926.7 823.4h0M927.4 849.3h0M926.1 875.8h0M926 900.5h0M925.3 926.1h0M927.8 951.3h0M925.9 978h0M926.2 1002.5h0M953.9 667.9h0M953 694.3h0M953.8 720.1h0M953 747h0M953.8 772.7h0M951.7 798.2h0M953.2 824.9h0M951.5 850h0M953 874h0M951.1 901.1h0M952.6 926.2h0M952.7 951.4h0M952.5 978.4h0M953.4 1004.8h0M976.2 668.8h0M976.7 694.5h0M977.7 720.3h0M978.6 745.5h0M977.7 771.1h0M976.8 798.1h0M976.7 824.5h0M977.3 848.1h0M978.7 873.6h0M977.1 901.4h0M976.2 927.3h0M977.9 954h0M977.2 979.4h0M979.3 1004.1h0M1004 668.3h0M1004.6 693.3h0M1002.9 719.7h0M1003.4 745.2h0M1002.8 771.7h0M1004.6 796.2h0M1002.5 822.4h0M1003.9 850.2h0M1001.7 876h0M1004.4 900.8h0M1003.5 927.6h0M1004.6 951.6h0M1003.9 977h0M1002.8 1005.4h0"/></g>
<rect x="255.8" y="631.6" width="73.8" height="392.4" fill="url(#sg2)"/>
<rect x="308.8" y="631.6" width="715.2" height="23.8" fill="#FA6E3D"/>
<rect x="308.8" y="631.6" width="20.8" height="23.8" fill="#FB7A4E"/>
<path class="st" d="M319.8 646.2H1024 M322.8 650.4H1024"/>
<path class="st" d="M260.8 648.6H307.8"/>
<path class="sv" d="M321.8 657.4V1024 M326.3 657.4V1024"/>
<path class="sc" d="M312.5 633.2v4.4M312.5 641.5v4.4M312.5 649.8v4.4M317.3 633.2v4.4M317.3 641.5v4.4M317.3 649.8v4.4M321.9 633.2v4.4M321.9 641.5v4.4M321.9 649.8v4.4M326.5 633.2v4.4M326.5 641.5v4.4M326.5 649.8v4.4"/>
<g clip-path="url(#p2)"><use href="#pole" x="490.6" y="265"/></g>
<g clip-path="url(#c2)"><path class="ml" d="M575.3 381.4Q575.7 394.7 576.8 408.1Q575.6 420.8 576.2 433.5Q576.7 447.1 576.4 460.7Q575 472.5 575.7 484.2Q576.6 497.6 576.2 511Q577.5 523.5 577.2 536Q575.8 548.7 577.5 561.4Q576.6 575 576.4 588.6Q576.6 602.2 575.7 615.8Q576.8 627.6 576.9 639.3Q577 652.9 576.3 666.6Q574 678.6 574.8 690.7Q576.5 704.6 576.6 718.5Q575.2 730.9 576.2 743.4Q574.7 756 576.3 768.6Q577.7 782.7 577.5 796.7Q576.7 808.1 576.2 819.5Q575.1 833.6 576 847.8Q574.7 859.6 575.7 871.3Q575.1 885.2 575.3 899.1Q576.5 911.3 576.7 923.5Q575.2 937.2 576.7 950.8Q577.3 963.8 577.8 976.9Q576.8 989.7 576.1 1002.6Q578.1 1015.6 577.7 1028.6Q577.1 1041 577.1 1053.5M601.8 383.5Q600.9 396.2 602.2 408.9Q601.8 420.8 600.9 432.7Q599.6 446.4 601 460.1Q600.2 472.4 602 484.6Q602.6 498.7 600.8 512.8Q600.8 525.7 600.4 538.6Q601 550.9 602.6 563.2Q602.1 576.3 603.3 589.4Q600.6 602.7 600.2 616Q600.5 628.9 601.5 641.7Q601.9 653.4 602.8 665Q602.9 677.8 600.3 690.5Q601.4 704.6 602.6 718.7Q601.4 730.5 600.9 742.4Q601.1 756.4 601.3 770.4Q601.3 783.4 602.5 796.4Q602.9 809.1 603.2 821.8Q602.7 833.5 602.8 845.3Q600.5 859.5 600.2 873.8Q600.7 885.8 602.1 897.8Q602.2 910.8 600.6 923.7Q599.6 936.8 601.2 950Q601.8 962.4 601.6 974.8Q602.4 987.7 600.4 1000.6Q600.8 1013.4 600.6 1026.1Q600.9 1039.1 601.5 1052M628.2 382.5Q628.8 395.6 627.1 408.6Q627.4 420.6 626.4 432.5Q625.6 445.9 625.9 459.3Q624.7 472 626.8 484.8Q628 498.6 626.6 512.5Q625.9 524.8 625.6 537Q625.6 549.7 626.8 562.3Q625.8 575.1 627.9 587.9Q625.9 600.7 625.7 613.5Q628 626.7 628.7 639.9Q627.7 653.8 626 667.7Q625.7 680.6 627.7 693.5Q628 706.1 626.7 718.8Q627.1 730.8 625.7 742.8Q625.6 756.1 628.1 769.5Q628.5 782.1 628.1 794.8Q627.7 807.2 628.4 819.6Q627.6 832.7 627.6 845.8Q626.2 859.8 626.2 873.8Q626.7 886.6 627 899.4Q625.4 912.2 626.5 924.9Q629 937.7 628.5 950.4Q626.3 963.4 626.4 976.3Q629.1 989.5 628.6 1002.6Q626.3 1014.8 627 1027.1Q626.2 1040.6 625.9 1054.1M651.6 381.5Q650.6 394.3 651.2 407.1Q653.3 420.5 652.3 433.9Q651.4 446.7 651.6 459.6Q654.1 471.9 653.5 484.3Q652.1 497.9 651.5 511.5Q651.5 525 653.9 538.5Q653 550.1 652.9 561.7Q652 576 653.8 590.4Q653.8 602.5 653.9 614.7Q652 627.7 652.3 640.7Q652 654.2 653.6 667.8Q652 679.9 652.6 692Q651.8 705 652 717.9Q654 730.4 652.8 742.9Q652.8 756.8 652.5 770.7Q652.6 782.6 651.8 794.4Q653 808.3 652 822.1Q651.8 835 652 847.8Q653.5 860.8 654 873.8Q652.3 885.6 653.6 897.4Q653.1 911.3 652.5 925.2Q653.2 937.8 651.8 950.3Q652.4 963.8 653.8 977.2Q651.8 988.8 652.2 1000.4Q653 1013.6 651.1 1026.8Q652.9 1039.7 652.8 1052.5M679.1 382.9Q678.2 396.1 678.5 409.2Q676.8 421.9 677.6 434.5Q677.2 446.8 677.6 459.1Q677.2 472.8 676.9 486.5Q677.4 498.2 679.4 509.9Q680.2 522.8 678.8 535.8Q678.5 549.1 677.8 562.4Q679.6 575.5 679.4 588.6Q678.8 601.4 678.1 614.1Q679.1 626.9 677.3 639.6Q677.4 652.1 676.7 664.6Q677.5 678.7 678.3 692.8Q678.4 704.9 678.6 717Q680.3 729.6 679.7 742.3Q679.2 755.6 677.9 768.9Q677.7 782.8 677.1 796.7Q676.9 808.2 678.8 819.8Q679.1 833.8 677.1 847.8Q677.9 859.9 677.7 872Q679.1 884.9 677.4 897.8Q677.6 910.7 678.4 923.6Q677.4 936.1 678.4 948.6Q676.9 962.3 678.2 976.1Q677.3 989.4 677.5 1002.8Q678.5 1015.3 679.5 1027.9Q677.8 1040 677.8 1052.1M704 381.7Q703.9 395 702.5 408.3Q701.5 421.4 702.6 434.4Q704.8 446.3 704.4 458.2Q703.1 471.4 704 484.6Q702.5 498.4 703 512.1Q702.8 524.4 705 536.6Q705.6 549.6 704.4 562.5Q705.9 575.1 705 587.8Q705.1 600.5 704.1 613.3Q703.1 627.2 703.7 641.2Q705.4 654.1 704.9 667Q704.9 679.4 703.7 691.7Q703 705 704 718.3Q705.2 731.3 703.9 744.3Q705 757.5 704.3 770.8Q703.4 783.6 703.9 796.4Q704.2 808.5 704.3 820.6Q702.8 833.5 704.5 846.4Q703.3 860.1 704.6 873.8Q703.4 886.8 704.8 899.7Q705.5 912 704.2 924.2Q703.4 937.3 702.9 950.4Q704.2 962.9 704.8 975.3Q705 988.9 702.6 1002.4Q703.1 1014.4 704.9 1026.5Q702.5 1039.2 702.4 1052M729.2 383.5Q727.9 396.3 728.2 409.1Q729.3 421.1 727.5 433.1Q727.8 446.8 729.1 460.6Q727.6 473.4 729 486.2Q727.4 498.6 728.6 511Q728.4 523.3 729.1 535.6Q729.8 549.1 728 562.5Q727.9 575.2 729.5 587.8Q729.7 602 728.2 616.2Q728.4 628.1 729.5 640.1Q731.2 653.5 729.9 666.9Q730.3 679.5 730 692.2Q728.9 704.3 729.4 716.5Q728.5 729.9 728.8 743.3Q728.6 756.1 728.2 769Q728.9 781.6 730.2 794.3Q728.8 807.4 727.8 820.5Q729.3 832.9 727.9 845.3Q727.7 859 730.3 872.8Q728.5 885.6 727.5 898.5Q728.5 911.3 728 924.1Q730.5 937.8 730.4 951.5Q730.7 964.1 728.7 976.7Q728.4 988.5 729 1000.3Q728.4 1014.3 728.7 1028.4Q730.5 1041.2 729.9 1053.9M756 382Q755.8 395.6 755.1 409.2Q756.9 422.2 755.8 435.2Q754.5 447.2 755.6 459.3Q755.7 472.6 754.1 486Q754.4 498.4 753.2 510.8Q755.2 523.5 754 536.3Q752.9 549.9 753.4 563.5Q754 575.4 753.8 587.4Q755.7 601.7 755.4 616Q754.3 628.5 753.6 641Q752.1 653.1 753.1 665.3Q753.8 678.9 753.4 692.5Q752.9 705.6 754.6 718.8Q753.7 731.6 755 744.4Q756.9 757 755.6 769.7Q754.5 781.9 753.6 794.1Q756.1 808.1 755.6 822Q756.7 835.1 754.9 848.2Q754 860.3 755.4 872.3Q753.6 885.2 753.4 898.2Q755.5 911.8 755.8 925.4Q753.3 936.9 752.9 948.4Q752.3 962.8 754.3 977.1Q753.7 989.9 755.7 1002.7Q755.6 1014.6 753.1 1026.5Q755.5 1039.7 755.3 1053M779.3 383.9Q780 396 778.4 408.2Q779.4 421.4 781.1 434.6Q780.3 446.9 781.1 459.1Q780.7 473.1 780.1 487.1Q777.9 499.2 778.7 511.2Q779.2 523.6 781.5 536.1Q782.4 550 780.8 563.8Q781.5 577.1 779.1 590.4Q779.6 601.9 780.8 613.4Q780.3 627.5 781.5 641.6Q781 653.2 779.8 664.7Q781.6 678.5 780.8 692.3Q781 704.4 780.7 716.5Q780.4 730.5 779.8 744.6Q780.8 756.5 780.6 768.4Q780.7 781.7 779.4 795.1Q778.9 808.8 779.8 822.6Q780 833.9 781.3 845.2Q780.7 858.3 780.3 871.4Q780.6 885 781.1 898.5Q782.7 912 781.2 925.5Q780.2 937.2 781.3 948.9Q778.4 962.8 778.5 976.7Q779.3 989.6 779.8 1002.5Q781.3 1014.8 779.7 1027.1Q781.6 1040 780.6 1052.8M805.3 382.1Q804.5 394.5 805.9 406.8Q807.2 420.5 805.2 434.3Q806.9 447.7 805.9 461.1Q804.7 474.1 804.9 487.1Q804.6 499.1 806 511Q804.8 523.9 805.5 536.8Q805.6 549.1 805.8 561.5Q806.4 574.9 806.6 588.4Q804.3 600.8 803.8 613.3Q804.3 626.5 804.8 639.6Q805.7 652.7 806.4 665.8Q805.5 678.5 806.7 691.3Q806.3 705.3 804.9 719.2Q804.5 732.1 806.5 745Q805.2 756.5 804.1 768Q804.1 781.3 806 794.7Q803.9 807.2 804.1 819.7Q804.7 832.9 804.8 846.2Q806.3 860.2 805.9 874.2Q805.2 886.8 804.3 899.3Q803.8 912.4 805.7 925.4Q805.3 938.4 806.9 951.3Q806.7 963.9 804.2 976.6Q805.4 988.9 806.2 1001.2Q804.3 1014.7 803.9 1028.2Q804.4 1041.1 805.8 1054M831.6 383.2Q829.3 396.4 829.3 409.6Q831.1 421.6 832.3 433.5Q830.4 447.4 831.7 461.2Q832.1 473.1 830.6 485.1Q829.9 498.7 831.1 512.3Q830.4 525.1 830.5 537.8Q832.9 550.2 832.3 562.6Q830.8 575.1 832.1 587.6Q831.1 601.7 831.1 615.7Q831.2 627.7 830.5 639.7Q830.7 652.7 830.1 665.8Q831.3 678.7 830.4 691.7Q831.2 704.9 830 718.1Q829.8 730.5 829.9 742.8Q831.2 756.8 830.7 770.7Q829.5 782.4 830.1 794.2Q831.8 807.7 831.7 821.3Q831.7 834.8 829.6 848.3Q828.2 860.7 829.8 873Q830.8 886.2 830 899.4Q829.7 912 830.4 924.6Q829.8 937.6 831.7 950.7Q829.8 962.9 830.2 975.2Q829.9 988.4 831.1 1001.7Q832.3 1013.9 831.5 1026Q831.6 1038.8 829.4 1051.6M857.2 381.4Q857.6 394.7 857.1 408.1Q856.9 421.3 857.7 434.4Q856.8 446.5 857.4 458.5Q856.5 471.9 857.5 485.2Q854.8 498.9 854.8 512.5Q855 525.1 855.4 537.7Q855.5 550.2 854.7 562.8Q856.4 575.7 856.1 588.6Q857.5 601.3 857.3 613.9Q858.6 626.6 857.6 639.3Q857.9 652.4 857.7 665.5Q858.1 679.4 856.8 693.4Q857.2 706.2 856.8 718.9Q856.4 732 854.9 745.1Q855.7 757.5 854.8 770Q854.7 783 857.3 796.1Q855.6 808.7 857 821.3Q856.5 833.6 857.8 845.9Q857.4 859.7 857.6 873.6Q856.2 885.9 855.3 898.3Q854.3 910.7 856 923.1Q857.2 937.1 857.4 951.1Q857.6 962.7 857.1 974.3Q856.5 988.6 857 1003Q858.2 1015.9 856.9 1028.8Q856.6 1041.3 857.7 1053.9M882.5 381.8Q882 394.7 882.6 407.6Q883.3 420.5 881 433.5Q880.2 445.9 881.1 458.3Q879.9 471.6 880.6 484.9Q879.3 497.4 880.8 509.9Q881.2 524.1 882.5 538.2Q882.1 551 881.2 563.7Q881.6 575.5 882.9 587.3Q882.6 601.1 881.9 614.9Q881.8 628.3 880.7 641.7Q881.8 654 882.7 666.3Q883.8 679.7 881.8 693.1Q881.8 706 880.3 719Q879.7 731 881.8 743Q882.7 756.3 880.9 769.5Q881.4 782.9 880.4 796.2Q881.8 809.3 881.4 822.3Q883.4 835 883.1 847.7Q882.9 859.8 880.4 871.8Q880.4 885.8 882.1 899.8Q881.8 911.8 882.1 923.8Q882.9 936.8 882.7 949.9Q882.4 962.8 882 975.7Q883.4 988.8 883.1 1002Q881.6 1014.9 880.4 1027.9Q881.6 1040 881.4 1052.1M907.1 381.7Q907.5 394.5 908.6 407.3Q907.4 419.9 907.3 432.4Q907.3 446.4 906.5 460.3Q906.7 473.2 907.1 486.1Q906.8 498.9 907.4 511.8Q906.7 525.2 906.4 538.6Q906.6 550 907.6 561.5Q907.4 574.6 908.2 587.7Q907.2 601.4 906.9 615.1Q907.9 627.2 908.4 639.3Q906.3 652.8 906.5 666.2Q906.7 679.1 907.7 691.9Q908.3 705.6 907.8 719.4Q906.4 731.3 905.8 743.3Q907.9 756.8 908.1 770.4Q907.7 782.5 908.6 794.7Q907.3 808.1 906.3 821.5Q907.1 834.6 908.2 847.8Q907.2 859.6 907.3 871.4Q907.5 884.5 907.8 897.6Q908 910.1 905.6 922.6Q907.5 936.1 906.6 949.6Q905.7 962.6 907.3 975.6Q908.2 988.8 907.2 1002Q907.1 1015.2 906.1 1028.4Q906.9 1041.3 907.7 1054.2M932.8 382.5Q932.3 395.6 933.7 408.7Q932 421.9 931.9 435.2Q931.5 447.1 931.6 459.1Q931.5 472.3 933.6 485.5Q933.8 499.1 931.5 512.7Q933.4 524.2 932.9 535.7Q934 549.1 932.1 562.5Q930.6 576 931.9 589.5Q930.7 601.4 931.7 613.3Q934.2 627 933.7 640.6Q933.4 654 932.5 667.4Q932.1 680.3 933.2 693.1Q933.3 705.1 932.1 717.2Q932.4 730.3 932.1 743.5Q933.2 756 932.8 768.4Q934 782.5 932.8 796.6Q932.3 808 933.4 819.4Q932.3 833.3 932.5 847.2Q932.4 860.7 931.2 874.2Q933.8 886.4 933.5 898.6Q933.2 911.6 932.7 924.6Q932.8 937.4 932.3 950.2Q932.4 962.8 932.6 975.3Q931 987.7 932.5 1000.2Q934 1013.4 933 1026.6Q932.5 1039.3 931.8 1052.1M958.9 382.3Q957.6 395.2 958.3 408.2Q957 420.9 958.3 433.6Q957.6 447.1 957.3 460.7Q959 472.6 958.8 484.5Q958.9 497.7 956.9 510.9Q958.9 523.8 959 536.6Q959.6 549.7 957.2 562.8Q958.1 576 958.1 589.2Q957 601.7 957.5 614.3Q957.6 627.8 959.6 641.2Q958.6 653.7 957.2 666.2Q957 679.9 956.9 693.5Q956.2 706.3 957.3 719.2Q958.7 730.9 957.1 742.7Q956 755.8 957.5 768.8Q956.6 781.9 957.6 794.9Q956.7 807.3 957.8 819.8Q958.1 833.6 958.5 847.4Q958.5 859.4 957.2 871.4Q956 884.4 956.6 897.4Q956.4 911 958.1 924.6Q959.5 937.8 959.5 951Q959.5 963 957 975Q957 987.6 957.1 1000.2Q958.1 1013.9 956.5 1027.5Q958.3 1041.1 959.5 1054.7M982 381.6Q982.4 395.5 983 409.3Q981.9 421.6 982.2 433.8Q982.6 447.3 984.7 460.7Q983.2 473.2 982.5 485.7Q984.6 497.9 984.1 510.2Q984.9 524 984.7 537.8Q984.7 550.1 983.1 562.5Q983.9 576.3 982.2 590.1Q983.5 602.5 982.5 614.9Q982.7 627.8 984.1 640.7Q983.3 653.1 984.4 665.5Q982.7 678.3 984 691.1Q984.6 704.8 984.2 718.6Q982.7 731.5 983.4 744.3Q984.6 756.1 984.1 767.8Q984.4 781.1 982.6 794.3Q982.3 808.2 984.1 822.1Q984.4 835.1 982.6 848.2Q982 860.3 982.5 872.4Q983.6 885 984.6 897.7Q985.7 910.2 984.6 922.7Q982.3 936.9 982.8 951.1Q982.5 962.8 984 974.6Q983 988.1 983.5 1001.7Q983.8 1015.2 982 1028.8Q983.3 1041.7 982 1054.6M1009.6 382.9Q1008.9 395.1 1008.5 407.4Q1007.5 421.4 1008.9 435.4Q1009.3 447.6 1007.7 459.7Q1007.8 473.4 1009.3 487.1Q1009.8 500 1009.6 512.8Q1011.1 524.9 1009.6 537Q1010.8 549.3 1010.3 561.5Q1010.5 574.4 1009.7 587.2Q1009 600.2 1007.6 613.2Q1008.3 627.3 1008.8 641.3Q1009.5 654 1009.9 666.6Q1009 679 1008.5 691.3Q1009.3 704.3 1008.8 717.3Q1010.2 730.7 1009 744.1Q1006.8 757.4 1007.6 770.8Q1006.8 783.6 1007.8 796.4Q1008.1 807.9 1007.4 819.4Q1010 832.8 1010.4 846.3Q1009.7 859.9 1008.6 873.5Q1007.9 886.1 1007.6 898.7Q1008 911.4 1010.1 924.1Q1009.2 936.5 1007.4 948.9Q1007.4 961.9 1010.2 974.8Q1009.1 988.4 1009.6 1002Q1010.7 1015 1009.8 1027.9Q1009.5 1041 1009.1 1054.2M1035.1 381.5Q1034.4 395 1033 408.5Q1032.8 421.5 1034.6 434.5Q1032.8 447.9 1033.7 461.4Q1035.3 473.3 1034.7 485.3Q1032.8 497.9 1033.3 510.4Q1033.6 524.1 1033.7 537.8Q1034.2 550.9 1034.1 564Q1033.7 576.9 1033.8 589.9Q1034.3 602.5 1035.9 615.1Q1035.9 627.4 1035.3 639.7Q1035 652.8 1034.3 665.8Q1032.9 679.7 1034.1 693.5Q1033.5 706.4 1033.9 719.3Q1035.1 731.1 1035.1 742.9Q1035 756 1034.2 769.2Q1033.5 782.9 1034.3 796.6Q1034.6 808.8 1034.8 821Q1034.5 833.6 1034.7 846.3Q1032.6 859.3 1033.2 872.2Q1033.2 885.8 1035.4 899.3Q1035.1 912 1032.9 924.6Q1034.6 937.5 1035.3 950.4Q1034.9 962.8 1035.9 975.2Q1034.3 988.2 1033.3 1001.3Q1032.2 1014.9 1032.9 1028.5Q1032.1 1041.1 1034.2 1053.7M551.9 407.5Q564.3 407.1 576.8 408.1Q589.5 408 602.2 408.9Q614.6 408.5 627.1 408.6Q639.1 406.6 651.2 407.1Q664.8 409.1 678.5 409.2Q690.5 408.6 702.5 408.3Q715.3 407.2 728.2 409.1Q741.6 409.7 755.1 409.2Q766.7 407.4 778.4 408.2Q792.1 408.1 805.9 406.8Q817.6 408 829.3 409.6Q843.2 408.9 857.1 408.1Q869.8 407.4 882.6 407.6Q895.6 408.6 908.6 407.3Q921.1 407.4 933.7 408.7Q946 407.3 958.3 408.2Q970.7 409 983 409.3Q995.8 409 1008.5 407.4Q1020.8 407.1 1033 408.5Q1046.2 408.9 1059.5 409.1M551.3 435.3Q563.8 435.1 576.2 433.5Q588.5 431.9 600.9 432.7Q613.6 433.7 626.4 432.5Q639.3 432.7 652.3 433.9Q664.9 434.2 677.6 434.5Q690.1 433.8 702.6 434.4Q715.1 434.7 727.5 433.1Q741.7 434.5 755.8 435.2Q768.5 434.6 781.1 434.6Q793.2 433.9 805.2 434.3Q818.7 434.8 832.3 433.5Q845 433.4 857.7 434.4Q869.3 433.1 881 433.5Q894.1 431.4 907.3 432.4Q919.6 435 931.9 435.2Q945.1 435.5 958.3 433.6Q970.3 434.7 982.2 433.8Q995.6 436.2 1008.9 435.4Q1021.8 434.8 1034.6 434.5Q1047.8 436.3 1061 435.6M552.2 458.8Q564.3 460.2 576.4 460.7Q588.7 459.6 601 460.1Q613.4 459.2 625.9 459.3Q638.7 458.9 651.6 459.6Q664.6 458.8 677.6 459.1Q691 458 704.4 458.2Q716.8 458.9 729.1 460.6Q742.4 461.4 755.6 459.3Q768.4 457.8 781.1 459.1Q793.5 459.9 805.9 461.1Q818.8 462 831.7 461.2Q844.5 460.8 857.4 458.5Q869.2 456.9 881.1 458.3Q893.8 460.3 906.5 460.3Q919.1 459.1 931.6 459.1Q944.4 460.3 957.3 460.7Q971 461 984.7 460.7Q996.2 461.3 1007.7 459.7Q1020.7 461.9 1033.7 461.4Q1046.9 461.3 1060.1 459.7M551.3 486Q563.5 484 575.7 484.2Q588.8 483.8 602 484.6Q614.4 484 626.8 484.8Q640.1 483.3 653.5 484.3Q665.2 484.6 676.9 486.5Q690.4 484.6 704 484.6Q716.5 486.9 729 486.2Q741.5 486.5 754.1 486Q767.1 487.8 780.1 487.1Q792.5 488.6 804.9 487.1Q817.8 487.2 830.6 485.1Q844 485.9 857.5 485.2Q869 484.6 880.6 484.9Q893.9 484.9 907.1 486.1Q920.4 485.5 933.6 485.5Q946.2 486.1 958.8 484.5Q970.6 484.4 982.5 485.7Q995.9 486.4 1009.3 487.1Q1022 487.1 1034.7 485.3Q1047.4 484.9 1060.1 487.1M550.9 512.9Q563.6 512.4 576.2 511Q588.5 510.4 600.8 512.8Q613.7 511.9 626.6 512.5Q639 512.5 651.5 511.5Q665.4 511.3 679.4 509.9Q691.2 512.5 703 512.1Q715.8 512.1 728.6 511Q740.9 512.1 753.2 510.8Q766 511.9 778.7 511.2Q792.4 510.2 806 511Q818.6 513.2 831.1 512.3Q843 510.9 854.8 512.5Q867.8 512 880.8 509.9Q894.1 510.5 907.4 511.8Q919.4 511.4 931.5 512.7Q944.2 511.2 956.9 510.9Q970.5 511.3 984.1 510.2Q996.8 512.8 1009.6 512.8Q1021.5 511.5 1033.3 510.4Q1046.3 511.3 1059.3 509.8M550.9 537Q564.1 535.9 577.2 536Q588.8 538.4 600.4 538.6Q613 539.2 625.6 537Q639.8 538.4 653.9 538.5Q666.4 536.7 678.8 535.8Q691.9 535.5 705 536.6Q717.1 534.9 729.1 535.6Q741.6 536.9 754 536.3Q767.8 537.2 781.5 536.1Q793.5 535.5 805.5 536.8Q818 536.2 830.5 537.8Q843 539.1 855.4 537.7Q868.9 539 882.5 538.2Q894.4 538.4 906.4 538.6Q919.6 535.6 932.9 535.7Q946 537.1 959 536.6Q971.8 536.4 984.7 537.8Q997.1 537.4 1009.6 537Q1021.6 536.4 1033.7 537.8Q1046.8 539.2 1059.9 538.3M552.3 563.4Q564.9 562.8 577.5 561.4Q590.1 560.8 602.6 563.2Q614.7 563.3 626.8 562.3Q639.8 561.1 652.9 561.7Q665.4 562.9 677.8 562.4Q691.1 561.7 704.4 562.5Q716.2 562.6 728 562.5Q740.7 563.5 753.4 563.5Q767.1 563.2 780.8 563.8Q793.3 561.4 805.8 561.5Q819 561.6 832.3 562.6Q843.5 561.3 854.7 562.8Q867.9 564.3 881.2 563.7Q894.4 562 907.6 561.5Q919.9 560.4 932.1 562.5Q944.6 562.6 957.2 562.8Q970.1 562.4 983.1 562.5Q996.7 562.5 1010.3 561.5Q1022.2 562.6 1034.1 564Q1046.4 561.8 1058.7 562.5M550.2 588.2Q563.3 586.8 576.4 588.6Q589.9 590.5 603.3 589.4Q615.6 588.9 627.9 587.9Q640.9 588.8 653.8 590.4Q666.6 588.6 679.4 588.6Q692.2 588.8 705 587.8Q717.2 588.8 729.5 587.8Q741.7 587.9 753.8 587.4Q766.5 587.9 779.1 590.4Q792.9 588.7 806.6 588.4Q819.4 589.1 832.1 587.6Q844.1 587.8 856.1 588.6Q869.5 588.5 882.9 587.3Q895.6 586 908.2 587.7Q920.1 588.9 931.9 589.5Q945 590.6 958.1 589.2Q970.1 590.8 982.2 590.1Q996 589.8 1009.7 587.2Q1021.8 588.2 1033.8 589.9Q1047 589 1060.3 589.2M550.8 613.2Q563.3 614.5 575.7 615.8Q587.9 615.6 600.2 616Q613 615.2 625.7 613.5Q639.8 613.8 653.9 614.7Q666 615.8 678.1 614.1Q691.1 615.2 704.1 613.3Q716.1 614.5 728.2 616.2Q741.8 616.7 755.4 616Q768.1 616 780.8 613.4Q792.3 614.8 803.8 613.3Q817.4 614.3 831.1 615.7Q844.2 614.2 857.3 613.9Q869.6 612.8 881.9 614.9Q894.4 613.5 906.9 615.1Q919.3 614.2 931.7 613.3Q944.6 612.6 957.5 614.3Q970 614.5 982.5 614.9Q995.1 615.2 1007.6 613.2Q1021.8 613.5 1035.9 615.1Q1047.6 615.3 1059.3 615.4M551.2 641.2Q564.1 641.7 576.9 639.3Q589.2 640.4 601.5 641.7Q615.1 641.8 628.7 639.9Q640.5 641.8 652.3 640.7Q664.8 639.5 677.3 639.6Q690.5 639.6 703.7 641.2Q716.6 641.5 729.5 640.1Q741.5 640.5 753.6 641Q767.5 640.5 781.5 641.6Q793.2 640 804.8 639.6Q817.7 640.2 830.5 639.7Q844 639 857.6 639.3Q869.1 641.1 880.7 641.7Q894.5 639.8 908.4 639.3Q921.1 639.3 933.7 640.6Q946.7 640.3 959.6 641.2Q971.9 642 984.1 640.7Q996.5 640 1008.8 641.3Q1022.1 639.5 1035.3 639.7Q1048.1 639.1 1060.9 641.1M550.6 667.3Q563.4 667.5 576.3 666.6Q589.5 667 602.8 665Q614.4 665.6 626 667.7Q639.8 669.3 653.6 667.8Q665.1 666.8 676.7 664.6Q690.8 665.7 704.9 667Q717.4 666.8 729.9 666.9Q741.5 667.2 753.1 665.3Q766.5 665.3 779.8 664.7Q793.1 666 806.4 665.8Q818.3 664.8 830.1 665.8Q843.9 665.8 857.7 665.5Q870.2 666.9 882.7 666.3Q894.6 665.6 906.5 666.2Q919.5 666.2 932.5 667.4Q944.8 666.1 957.2 666.2Q970.8 664.8 984.4 665.5Q997.2 665.5 1009.9 666.6Q1022.1 665.4 1034.3 665.8Q1047.7 663.9 1061 665M552.2 692.2Q563.5 691.2 574.8 690.7Q587.5 690.3 600.3 690.5Q614 692.3 627.7 693.5Q640.1 692 652.6 692Q665.4 693.8 678.3 692.8Q691 691.1 703.7 691.7Q716.9 691.9 730 692.2Q741.7 691 753.4 692.5Q767.1 692.2 780.8 692.3Q793.7 691.3 806.7 691.3Q818.6 691.3 830.4 691.7Q843.6 691.6 856.8 693.4Q869.3 692.8 881.8 693.1Q894.8 693 907.7 691.9Q920.5 691.8 933.2 693.1Q945.1 692.6 956.9 693.5Q970.5 691.1 984 691.1Q996.3 690.9 1008.5 691.3Q1021.3 691.5 1034.1 693.5Q1046.8 693.2 1059.6 691.7M551.4 716.6Q564 717.5 576.6 718.5Q589.6 717.8 602.6 718.7Q614.7 719.2 626.7 718.8Q639.4 719.9 652 717.9Q665.3 717.5 678.6 717Q691.3 717.5 704 718.3Q716.7 717.7 729.4 716.5Q742 717.9 754.6 718.8Q767.7 719.2 780.7 716.5Q792.8 717.9 804.9 719.2Q817.4 717.3 830 718.1Q843.4 718.9 856.8 718.9Q868.6 719.3 880.3 719Q894 718.9 907.8 719.4Q919.9 718.7 932.1 717.2Q944.7 719.1 957.3 719.2Q970.7 718.8 984.2 718.6Q996.5 717.2 1008.8 717.3Q1021.3 716.8 1033.9 719.3Q1046.5 718.1 1059.2 717.6M549.4 745.1Q562.8 744.7 576.2 743.4Q588.5 741.3 600.9 742.4Q613.3 743.9 625.7 742.8Q639.3 743.1 652.8 742.9Q666.2 741.9 679.7 742.3Q691.8 743.3 703.9 744.3Q716.3 744.4 728.8 743.3Q741.9 743.9 755 744.4Q767.4 744.1 779.8 744.6Q793.2 745.9 806.5 745Q818.2 744.7 829.9 742.8Q842.4 745.5 854.9 745.1Q868.4 743.7 881.8 743Q893.8 743.4 905.8 743.3Q918.9 742.1 932.1 743.5Q944.6 742.6 957.1 742.7Q970.3 744.5 983.4 744.3Q996.2 745.6 1009 744.1Q1022.1 744.6 1035.1 742.9Q1048.2 742.6 1061.2 744.4M550.2 768.5Q563.2 767.9 576.3 768.6Q588.8 770 601.3 770.4Q614.7 771.2 628.1 769.5Q640.3 769.3 652.5 770.7Q665.2 768.7 677.9 768.9Q691.1 769.2 704.3 770.8Q716.3 769.4 728.2 769Q741.9 768.4 755.6 769.7Q768.1 767.7 780.6 768.4Q792.4 767.4 804.1 768Q817.4 770.6 830.7 770.7Q842.7 771.2 854.8 770Q867.9 770.7 880.9 769.5Q894.5 770.2 908.1 770.4Q920.5 769.5 932.8 768.4Q945.2 768.4 957.5 768.8Q970.8 767.8 984.1 767.8Q995.9 768.3 1007.6 770.8Q1020.9 768.4 1034.2 769.2Q1046.5 769.7 1058.9 770M552.1 796Q564.8 796 577.5 796.7Q590 796.1 602.5 796.4Q615.3 797 628.1 794.8Q640 793.1 651.8 794.4Q664.4 794.3 677.1 796.7Q690.5 797.4 703.9 796.4Q717.1 795.2 730.2 794.3Q741.9 794.6 753.6 794.1Q766.5 795 779.4 795.1Q792.7 795.8 806 794.7Q818 795.6 830.1 794.2Q843.7 796.1 857.3 796.1Q868.9 796.7 880.4 796.2Q894.5 795.7 908.6 794.7Q920.7 794.6 932.8 796.6Q945.2 796.3 957.6 794.9Q970.1 794.7 982.6 794.3Q995.2 796.2 1007.8 796.4Q1021 795.3 1034.3 796.6Q1047.3 796.9 1060.3 794.4M549.6 820.4Q562.9 821.2 576.2 819.5Q589.7 819.4 603.2 821.8Q615.8 822.1 628.4 819.6Q640.2 822.2 652 822.1Q665.4 819.5 678.8 819.8Q691.6 819.6 704.3 820.6Q716 820.6 727.8 820.5Q741.7 822.4 755.6 822Q767.7 823.4 779.8 822.6Q791.9 820 804.1 819.7Q817.9 821.5 831.7 821.3Q844.3 822.2 857 821.3Q869.2 820.4 881.4 822.3Q893.9 823.2 906.3 821.5Q919.9 819.9 933.4 819.4Q945.6 818.3 957.8 819.8Q970.9 821.6 984.1 822.1Q995.8 821.3 1007.4 819.4Q1021.1 821.7 1034.8 821Q1047.1 819.4 1059.3 819.8M550 846.1Q563 845.9 576 847.8Q589.4 845.7 602.8 845.3Q615.2 846.9 627.6 845.8Q639.8 847.8 652 847.8Q664.5 849.3 677.1 847.8Q690.8 848.1 704.5 846.4Q716.2 847.3 727.9 845.3Q741.4 847.8 754.9 848.2Q768.1 846.8 781.3 845.2Q793 846.5 804.8 846.2Q817.2 847.2 829.6 848.3Q843.7 848.1 857.8 845.9Q870.5 845.3 883.1 847.7Q895.7 846.9 908.2 847.8Q920.4 846.5 932.5 847.2Q945.5 848.1 958.5 847.4Q970.5 846.2 982.6 848.2Q996.5 847.3 1010.4 846.3Q1022.5 847.7 1034.7 846.3Q1047.2 847.6 1059.7 847.6M549.3 872.7Q562.5 872.8 575.7 871.3Q588 871.5 600.2 873.8Q613.2 873.7 626.2 873.8Q640.1 872.3 654 873.8Q665.9 872.8 677.7 872Q691.1 871.4 704.6 873.8Q717.5 872.7 730.3 872.8Q742.9 872.5 755.4 872.3Q767.9 872.6 780.3 871.4Q793.1 872.1 805.9 874.2Q817.9 874.4 829.8 873Q843.7 873.4 857.6 873.6Q869 873.2 880.4 871.8Q893.9 872.3 907.3 871.4Q919.2 874.4 931.2 874.2Q944.2 873.8 957.2 871.4Q969.8 873.4 982.5 872.4Q995.6 873.9 1008.6 873.5Q1020.9 873.7 1033.2 872.2Q1046.3 873.1 1059.4 872M550.2 898.1Q562.8 897.6 575.3 899.1Q588.7 898.1 602.1 897.8Q614.6 898.6 627 899.4Q640.3 899.9 653.6 897.4Q665.5 898.8 677.4 897.8Q691.1 899.7 704.8 899.7Q716.2 898.9 727.5 898.5Q740.5 899.2 753.4 898.2Q767.3 898.9 781.1 898.5Q792.7 899.1 804.3 899.3Q817.1 898.5 830 899.4Q842.6 900.1 855.3 898.3Q868.7 897.6 882.1 899.8Q895 898.7 907.8 897.6Q920.7 898.6 933.5 898.6Q945 898.5 956.6 897.4Q970.6 897.2 984.6 897.7Q996.1 897.5 1007.6 898.7Q1021.5 898.5 1035.4 899.3Q1047.2 900.5 1059 899.9M549.8 923Q563.3 924.6 576.7 923.5Q588.6 924.9 600.6 923.7Q613.5 924 626.5 924.9Q639.5 925.1 652.5 925.2Q665.4 923.3 678.4 923.6Q691.3 923 704.2 924.2Q716.1 922.9 728 924.1Q741.9 925.1 755.8 925.4Q768.5 925 781.2 925.5Q793.4 924.4 805.7 925.4Q818 924.7 830.4 924.6Q843.2 923.7 856 923.1Q869.1 922.1 882.1 923.8Q893.9 924.7 905.6 922.6Q919.1 922.4 932.7 924.6Q945.4 924.9 958.1 924.6Q971.4 925.3 984.6 922.7Q997.4 922.2 1010.1 924.1Q1021.5 923.5 1032.9 924.6Q1046 925.3 1059 924M549.4 951.2Q563 952.1 576.7 950.8Q589 950.9 601.2 950Q614.9 951.2 628.5 950.4Q640.2 950.9 651.8 950.3Q665.1 950.4 678.4 948.6Q690.6 948.7 702.9 950.4Q716.6 952 730.4 951.5Q741.6 951.3 752.9 948.4Q767.1 947.9 781.3 948.9Q794.1 950.8 806.9 951.3Q819.3 949.7 831.7 950.7Q844.6 950.6 857.4 951.1Q870 952.1 882.7 949.9Q894.7 950.2 906.6 949.6Q919.5 949.1 932.3 950.2Q945.9 951.7 959.5 951Q971.1 951.6 982.8 951.1Q995.1 950.9 1007.4 948.9Q1021.3 950.5 1035.3 950.4Q1047.1 949.2 1059 950M551.6 976Q564.7 975.6 577.8 976.9Q589.7 975.8 601.6 974.8Q614 974 626.4 976.3Q640.1 976.1 653.8 977.2Q666 977.2 678.2 976.1Q691.5 975.1 704.8 975.3Q716.7 975.5 728.7 976.7Q741.5 976.4 754.3 977.1Q766.4 978 778.5 976.7Q791.3 975.7 804.2 976.6Q817.2 977.1 830.2 975.2Q843.6 975.7 857.1 974.3Q869.5 974 882 975.7Q894.6 975.7 907.3 975.6Q920 975.4 932.6 975.3Q944.8 975.6 957 975Q970.5 975.3 984 974.6Q997.1 975.3 1010.2 974.8Q1023 973.5 1035.9 975.2Q1048.3 976.7 1060.7 977M549.6 1000.5Q562.9 1000.7 576.1 1002.6Q588.3 1001.7 600.4 1000.6Q614.5 1000.2 628.6 1002.6Q640.4 1002.9 652.2 1000.4Q664.8 1000.1 677.5 1002.8Q690.1 1001.3 702.6 1002.4Q715.8 1000 729 1000.3Q742.3 1000.1 755.7 1002.7Q767.7 1001 779.8 1002.5Q793 1003.3 806.2 1001.2Q818.6 1001.4 831.1 1001.7Q844 1002.3 857 1003Q870.1 1003.9 883.1 1002Q895.2 1000.4 907.2 1002Q919.8 1001.7 932.5 1000.2Q944.8 999.8 957.1 1000.2Q970.3 1001.6 983.5 1001.7Q996.5 1002 1009.6 1002Q1021.5 1002.8 1033.3 1001.3Q1046.7 1003 1060.1 1003M549.6 1026.8Q563.6 1029.2 577.7 1028.6Q589.1 1026.6 600.6 1026.1Q613.8 1028.1 627 1027.1Q639.1 1027.3 651.1 1026.8Q665.3 1026 679.5 1027.9Q692.2 1028.8 704.9 1026.5Q716.8 1026.9 728.7 1028.4Q740.9 1026.8 753.1 1026.5Q766.4 1026.5 779.7 1027.1Q791.8 1028.4 803.9 1028.2Q817.7 1027.1 831.5 1026Q844.2 1027.2 856.9 1028.8Q868.7 1029.6 880.4 1027.9Q893.3 1027.8 906.1 1028.4Q919.5 1026.9 933 1026.6Q944.7 1027.7 956.5 1027.5Q969.3 1029.3 982 1028.8Q995.9 1027.5 1009.8 1027.9Q1021.4 1029.4 1032.9 1028.5Q1046 1027 1059.2 1028"/><path class="mk" d="M576.8 408.1h0M576.2 433.5h0M576.4 460.7h0M575.7 484.2h0M576.2 511h0M577.2 536h0M577.5 561.4h0M576.4 588.6h0M575.7 615.8h0M576.9 639.3h0M576.3 666.6h0M574.8 690.7h0M576.6 718.5h0M576.2 743.4h0M576.3 768.6h0M577.5 796.7h0M576.2 819.5h0M576 847.8h0M575.7 871.3h0M575.3 899.1h0M576.7 923.5h0M576.7 950.8h0M577.8 976.9h0M576.1 1002.6h0M602.2 408.9h0M600.9 432.7h0M601 460.1h0M602 484.6h0M600.8 512.8h0M600.4 538.6h0M602.6 563.2h0M603.3 589.4h0M600.2 616h0M601.5 641.7h0M602.8 665h0M600.3 690.5h0M602.6 718.7h0M600.9 742.4h0M601.3 770.4h0M602.5 796.4h0M603.2 821.8h0M602.8 845.3h0M600.2 873.8h0M602.1 897.8h0M600.6 923.7h0M601.2 950h0M601.6 974.8h0M600.4 1000.6h0M627.1 408.6h0M626.4 432.5h0M625.9 459.3h0M626.8 484.8h0M626.6 512.5h0M625.6 537h0M626.8 562.3h0M627.9 587.9h0M625.7 613.5h0M628.7 639.9h0M626 667.7h0M627.7 693.5h0M626.7 718.8h0M625.7 742.8h0M628.1 769.5h0M628.1 794.8h0M628.4 819.6h0M627.6 845.8h0M626.2 873.8h0M627 899.4h0M626.5 924.9h0M628.5 950.4h0M626.4 976.3h0M628.6 1002.6h0M651.2 407.1h0M652.3 433.9h0M651.6 459.6h0M653.5 484.3h0M651.5 511.5h0M653.9 538.5h0M652.9 561.7h0M653.8 590.4h0M653.9 614.7h0M652.3 640.7h0M653.6 667.8h0M652.6 692h0M652 717.9h0M652.8 742.9h0M652.5 770.7h0M651.8 794.4h0M652 822.1h0M652 847.8h0M654 873.8h0M653.6 897.4h0M652.5 925.2h0M651.8 950.3h0M653.8 977.2h0M652.2 1000.4h0M678.5 409.2h0M677.6 434.5h0M677.6 459.1h0M676.9 486.5h0M679.4 509.9h0M678.8 535.8h0M677.8 562.4h0M679.4 588.6h0M678.1 614.1h0M677.3 639.6h0M676.7 664.6h0M678.3 692.8h0M678.6 717h0M679.7 742.3h0M677.9 768.9h0M677.1 796.7h0M678.8 819.8h0M677.1 847.8h0M677.7 872h0M677.4 897.8h0M678.4 923.6h0M678.4 948.6h0M678.2 976.1h0M677.5 1002.8h0M702.5 408.3h0M702.6 434.4h0M704.4 458.2h0M704 484.6h0M703 512.1h0M705 536.6h0M704.4 562.5h0M705 587.8h0M704.1 613.3h0M703.7 641.2h0M704.9 667h0M703.7 691.7h0M704 718.3h0M703.9 744.3h0M704.3 770.8h0M703.9 796.4h0M704.3 820.6h0M704.5 846.4h0M704.6 873.8h0M704.8 899.7h0M704.2 924.2h0M702.9 950.4h0M704.8 975.3h0M702.6 1002.4h0M728.2 409.1h0M727.5 433.1h0M729.1 460.6h0M729 486.2h0M728.6 511h0M729.1 535.6h0M728 562.5h0M729.5 587.8h0M728.2 616.2h0M729.5 640.1h0M729.9 666.9h0M730 692.2h0M729.4 716.5h0M728.8 743.3h0M728.2 769h0M730.2 794.3h0M727.8 820.5h0M727.9 845.3h0M730.3 872.8h0M727.5 898.5h0M728 924.1h0M730.4 951.5h0M728.7 976.7h0M729 1000.3h0M755.1 409.2h0M755.8 435.2h0M755.6 459.3h0M754.1 486h0M753.2 510.8h0M754 536.3h0M753.4 563.5h0M753.8 587.4h0M755.4 616h0M753.6 641h0M753.1 665.3h0M753.4 692.5h0M754.6 718.8h0M755 744.4h0M755.6 769.7h0M753.6 794.1h0M755.6 822h0M754.9 848.2h0M755.4 872.3h0M753.4 898.2h0M755.8 925.4h0M752.9 948.4h0M754.3 977.1h0M755.7 1002.7h0M778.4 408.2h0M781.1 434.6h0M781.1 459.1h0M780.1 487.1h0M778.7 511.2h0M781.5 536.1h0M780.8 563.8h0M779.1 590.4h0M780.8 613.4h0M781.5 641.6h0M779.8 664.7h0M780.8 692.3h0M780.7 716.5h0M779.8 744.6h0M780.6 768.4h0M779.4 795.1h0M779.8 822.6h0M781.3 845.2h0M780.3 871.4h0M781.1 898.5h0M781.2 925.5h0M781.3 948.9h0M778.5 976.7h0M779.8 1002.5h0M805.9 406.8h0M805.2 434.3h0M805.9 461.1h0M804.9 487.1h0M806 511h0M805.5 536.8h0M805.8 561.5h0M806.6 588.4h0M803.8 613.3h0M804.8 639.6h0M806.4 665.8h0M806.7 691.3h0M804.9 719.2h0M806.5 745h0M804.1 768h0M806 794.7h0M804.1 819.7h0M804.8 846.2h0M805.9 874.2h0M804.3 899.3h0M805.7 925.4h0M806.9 951.3h0M804.2 976.6h0M806.2 1001.2h0M829.3 409.6h0M832.3 433.5h0M831.7 461.2h0M830.6 485.1h0M831.1 512.3h0M830.5 537.8h0M832.3 562.6h0M832.1 587.6h0M831.1 615.7h0M830.5 639.7h0M830.1 665.8h0M830.4 691.7h0M830 718.1h0M829.9 742.8h0M830.7 770.7h0M830.1 794.2h0M831.7 821.3h0M829.6 848.3h0M829.8 873h0M830 899.4h0M830.4 924.6h0M831.7 950.7h0M830.2 975.2h0M831.1 1001.7h0M857.1 408.1h0M857.7 434.4h0M857.4 458.5h0M857.5 485.2h0M854.8 512.5h0M855.4 537.7h0M854.7 562.8h0M856.1 588.6h0M857.3 613.9h0M857.6 639.3h0M857.7 665.5h0M856.8 693.4h0M856.8 718.9h0M854.9 745.1h0M854.8 770h0M857.3 796.1h0M857 821.3h0M857.8 845.9h0M857.6 873.6h0M855.3 898.3h0M856 923.1h0M857.4 951.1h0M857.1 974.3h0M857 1003h0M882.6 407.6h0M881 433.5h0M881.1 458.3h0M880.6 484.9h0M880.8 509.9h0M882.5 538.2h0M881.2 563.7h0M882.9 587.3h0M881.9 614.9h0M880.7 641.7h0M882.7 666.3h0M881.8 693.1h0M880.3 719h0M881.8 743h0M880.9 769.5h0M880.4 796.2h0M881.4 822.3h0M883.1 847.7h0M880.4 871.8h0M882.1 899.8h0M882.1 923.8h0M882.7 949.9h0M882 975.7h0M883.1 1002h0M908.6 407.3h0M907.3 432.4h0M906.5 460.3h0M907.1 486.1h0M907.4 511.8h0M906.4 538.6h0M907.6 561.5h0M908.2 587.7h0M906.9 615.1h0M908.4 639.3h0M906.5 666.2h0M907.7 691.9h0M907.8 719.4h0M905.8 743.3h0M908.1 770.4h0M908.6 794.7h0M906.3 821.5h0M908.2 847.8h0M907.3 871.4h0M907.8 897.6h0M905.6 922.6h0M906.6 949.6h0M907.3 975.6h0M907.2 1002h0M933.7 408.7h0M931.9 435.2h0M931.6 459.1h0M933.6 485.5h0M931.5 512.7h0M932.9 535.7h0M932.1 562.5h0M931.9 589.5h0M931.7 613.3h0M933.7 640.6h0M932.5 667.4h0M933.2 693.1h0M932.1 717.2h0M932.1 743.5h0M932.8 768.4h0M932.8 796.6h0M933.4 819.4h0M932.5 847.2h0M931.2 874.2h0M933.5 898.6h0M932.7 924.6h0M932.3 950.2h0M932.6 975.3h0M932.5 1000.2h0M958.3 408.2h0M958.3 433.6h0M957.3 460.7h0M958.8 484.5h0M956.9 510.9h0M959 536.6h0M957.2 562.8h0M958.1 589.2h0M957.5 614.3h0M959.6 641.2h0M957.2 666.2h0M956.9 693.5h0M957.3 719.2h0M957.1 742.7h0M957.5 768.8h0M957.6 794.9h0M957.8 819.8h0M958.5 847.4h0M957.2 871.4h0M956.6 897.4h0M958.1 924.6h0M959.5 951h0M957 975h0M957.1 1000.2h0M983 409.3h0M982.2 433.8h0M984.7 460.7h0M982.5 485.7h0M984.1 510.2h0M984.7 537.8h0M983.1 562.5h0M982.2 590.1h0M982.5 614.9h0M984.1 640.7h0M984.4 665.5h0M984 691.1h0M984.2 718.6h0M983.4 744.3h0M984.1 767.8h0M982.6 794.3h0M984.1 822.1h0M982.6 848.2h0M982.5 872.4h0M984.6 897.7h0M984.6 922.7h0M982.8 951.1h0M984 974.6h0M983.5 1001.7h0M1008.5 407.4h0M1008.9 435.4h0M1007.7 459.7h0M1009.3 487.1h0M1009.6 512.8h0M1009.6 537h0M1010.3 561.5h0M1009.7 587.2h0M1007.6 613.2h0M1008.8 641.3h0M1009.9 666.6h0M1008.5 691.3h0M1008.8 717.3h0M1009 744.1h0M1007.6 770.8h0M1007.8 796.4h0M1007.4 819.4h0M1010.4 846.3h0M1008.6 873.5h0M1007.6 898.7h0M1010.1 924.1h0M1007.4 948.9h0M1010.2 974.8h0M1009.6 1002h0"/></g>
<rect x="490.6" y="371.1" width="73.8" height="652.9" fill="url(#sg3)"/>
<rect x="543.6" y="371.1" width="480.4" height="23.8" fill="#FA6E3D"/>
<rect x="543.6" y="371.1" width="20.8" height="23.8" fill="#FB7A4E"/>
<path class="st" d="M554.6 385.7H1024 M557.6 389.9H1024"/>
<path class="st" d="M495.6 388.1H542.6"/>
<path class="sv" d="M556.6 396.9V1024 M561.1 396.9V1024"/>
<path class="sc" d="M547.3 372.7v4.4M547.3 381v4.4M547.3 389.3v4.4M552.1 372.7v4.4M552.1 381v4.4M552.1 389.3v4.4M556.7 372.7v4.4M556.7 381v4.4M556.7 389.3v4.4M561.3 372.7v4.4M561.3 381v4.4M561.3 389.3v4.4"/>
<g clip-path="url(#p3)"><use href="#pole" x="742.3" y="156.9"/></g>
<g clip-path="url(#c3)"><path class="ml" d="M827 236.2Q827.2 250.2 827.5 264.3Q829.1 275.9 828.3 287.6Q827.7 300.5 827.8 313.4Q827.1 326.4 828.4 339.4Q827 353.1 827 366.9Q826.5 379.7 829.1 392.6Q828.2 405.5 827.3 418.5Q827.2 430.3 827.3 442.2Q827 456.2 827.3 470.2Q828.3 482.3 828.4 494.4Q829 508.3 829.1 522.3Q827.6 535.4 827.3 548.5Q827.9 559.9 827.2 571.4Q826.5 585.6 828 599.8Q828.7 612.2 828.3 624.5Q827.8 637 828 649.5Q828.5 662.6 827.4 675.7Q828.9 689.5 828.2 703.2Q827.3 715 826.6 726.8Q826.8 740.4 829.4 753.9Q828.5 766.5 826.6 779Q826 792.7 828.5 806.3Q826.2 819.2 826.7 832.1Q826.8 844 828.9 855.9Q829.4 869.7 828.1 883.4Q827.2 896.1 827.2 908.8Q828.3 920.7 828.2 932.6Q827.7 946.1 827.3 959.5Q827.4 973.3 826.8 987Q825.5 998.8 827.2 1010.5M853.8 237.5Q854.7 250.1 852.9 262.6Q853 276.5 853.4 290.3Q851.4 303.2 852.1 316.1Q853.7 328.7 854.9 341.2Q855.8 353.6 854.4 366Q854.6 379.5 854.9 393Q855 405.4 854 417.8Q852 431.1 852.6 444.4Q852.3 456.2 854.2 468Q853 481.8 852.8 495.5Q851.2 507.8 852.5 520Q852.9 532.7 852.5 545.5Q850.8 559 852.2 572.5Q852.7 585.7 853.5 599Q853.7 611.1 852.8 623.2Q852.7 636.9 854.8 650.6Q856 663.6 854 676.6Q853.8 689.4 852.9 702.1Q853.7 715.1 852.9 728.1Q854.4 740 854.5 751.9Q854.6 764.9 854.4 778Q852.8 790.8 851.9 803.6Q853.1 817.8 853.6 831.9Q854.9 843.7 854.8 855.5Q853.6 869.7 853.2 883.8Q852.4 896.5 854.7 909.2Q855.1 921.3 852.6 933.3Q851.8 946.2 852.3 959Q854.1 972.8 853.1 986.6Q855.1 998.5 854 1010.4M877.9 237.2Q877.6 250.2 880.1 263.1Q881.3 276.4 879.8 289.6Q879.5 302.2 880.1 314.8Q880.5 327.6 878.5 340.5Q880.1 353.1 879.9 365.7Q878.2 379.5 877.9 393.3Q879.3 405.9 878.8 418.5Q877.1 430.4 877.9 442.3Q879.2 455.9 878 469.4Q878 482 877.4 494.7Q880.4 507.8 880.3 521Q878.7 534.5 877.3 548Q878.4 559.9 878.3 571.8Q878.1 585.4 879.3 599.1Q878.1 612.1 878.3 625.1Q877.7 637.4 880.1 649.7Q880.2 662.1 878.9 674.4Q880.5 687.8 879.2 701.1Q879 714.8 879.4 728.4Q877.5 741.2 878.4 753.9Q878 766 880.3 778.1Q879.1 791.5 879.9 804.9Q880.9 817.2 880.3 829.4Q878.8 842.5 878.5 855.5Q878.2 869.6 878.1 883.6Q879.7 895.7 879 907.7Q880.3 920.2 880.4 932.6Q877.4 946.6 877.4 960.7Q879.6 973.7 879.1 986.7Q879.6 999.7 878.9 1012.8M903.8 236.5Q903.6 249.9 905.6 263.3Q902.8 275.4 902.8 287.4Q904.1 301.5 902.8 315.5Q903.1 327.4 904.8 339.4Q905.1 353.3 905.3 367.3Q904.3 379.9 904.8 392.4Q905.2 405.5 904.1 418.6Q903.8 431.9 904 445.2Q904.9 457.7 904.6 470.2Q906.5 483.5 905.7 496.9Q903.8 508.5 904.5 520Q904 534.2 904.4 548.3Q904.7 560.2 903.4 572Q904.6 584.9 903.6 597.7Q905.6 611.1 905.3 624.5Q903.8 637.4 903 650.2Q904.6 662.4 905 674.5Q904.4 687.4 903.4 700.2Q905.3 713.8 905 727.3Q902.8 739.9 902.8 752.6Q901.7 766 903.4 779.4Q902.7 792.1 904.1 804.7Q903.4 817 903.8 829.3Q904.5 843.2 903.8 857Q904.5 869.9 904.5 882.7Q903.2 894.7 903.3 906.7Q902.8 920.7 905.2 934.7Q904.7 948 904.9 961.3Q905.8 973.8 903.7 986.3Q902.4 999 903.7 1011.7M931.1 237.3Q931.9 251 930.2 264.8Q929.6 276.5 929.8 288.2Q930.9 301.8 931.3 315.4Q929.8 327.6 929.2 339.9Q930.2 352.5 928.3 365.1Q930.8 378.7 931.3 392.4Q931.6 404.8 930.7 417.2Q930.8 430.8 930.9 444.5Q931.2 457 931 469.6Q930.2 482.6 931.1 495.6Q930.3 509.1 928.7 522.5Q930.2 535.4 929.2 548.4Q928.2 560.4 930 572.5Q929.8 585.3 929.9 598.2Q929.1 610.6 928.4 622.9Q928.6 637.2 928.5 651.5Q930.5 663 929.3 674.5Q929.7 688.4 929.5 702.2Q929.7 715.6 930.2 728.9Q928.5 741.9 929.3 754.9Q928.1 766.5 928.2 778.1Q930.2 791.8 929.8 805.5Q930.1 818.6 929.5 831.7Q930.5 843.4 929.9 855Q931 868.9 929.4 882.9Q930.5 895 929 907.2Q930.9 920.5 930.3 933.9Q932.3 947.6 931.4 961.2Q931.6 972.7 929.2 984.1Q929.6 997.6 928.8 1011.2M955 237.2Q954.5 249.9 953.9 262.6Q953 276.2 955 289.8Q955.9 302.5 954 315.2Q954.4 328.4 954.9 341.5Q954.7 353.4 955.8 365.4Q955.4 378.6 955.9 391.8Q956.9 404.1 956.3 416.5Q956.3 430.2 954.7 443.9Q954 456.6 954.6 469.2Q954 481.9 955.5 494.6Q955.6 507.5 956.4 520.5Q954.9 534.5 955.9 548.5Q955.3 561.2 954 574Q955.2 586.2 954.2 598.5Q953.8 612.1 954 625.8Q953.2 638 954.6 650.2Q957.1 662.6 956.8 674.9Q954.3 688.6 953.9 702.4Q952.8 714.4 953.8 726.4Q954.2 739.1 954.5 751.8Q955.2 764.8 954.7 777.8Q955.2 791.4 956.6 805Q954 818.3 953.7 831.6Q953.4 844.7 954.4 857.8Q955.3 869.5 953.8 881.2Q955.8 895.2 954.8 909.2Q954.9 922.4 956.6 935.5Q956.1 947.4 954.3 959.4Q956.3 973 956.4 986.6Q957.6 998.3 956.7 1010.1M979.2 237.1Q978.9 250.4 981.8 263.8Q979.6 276.7 980.4 289.6Q979.1 302.7 980.5 315.9Q980.5 328.6 980 341.4Q978.8 354 979.6 366.7Q981.2 379.2 980.1 391.7Q979.2 404.1 980 416.5Q979.5 430.4 979.4 444.3Q979.1 457.2 981.2 470.1Q982.1 482.9 980.5 495.7Q980.2 509.2 981.6 522.8Q980.3 535.3 980.4 547.8Q980.4 560.8 981.7 573.9Q980.5 585.8 981.2 597.7Q980.1 611.2 981.7 624.6Q982.5 637.8 981.5 651Q979.3 662.8 979.8 674.6Q980 688.5 981.6 702.3Q978.9 714.2 979.2 726.1Q980 740 980.5 753.9Q980 766.9 979.5 779.8Q981.2 792.6 980.2 805.5Q978.6 817.7 980 829.9Q981.2 843.6 979.6 857.2Q979.1 869.1 981.1 881Q979.8 895.1 979.5 909.3Q981 922.3 979.9 935.4Q982.2 948.1 982.2 960.8Q982.2 972.6 979.5 984.3Q979.6 997.7 981.8 1011.1M1004.7 236.1Q1003.9 249.3 1005.5 262.4Q1004.6 276 1004.7 289.7Q1004.2 301.9 1004.7 314.1Q1006.1 327.8 1006.8 341.4Q1005.5 353.5 1007.1 365.6Q1006.3 379.1 1005.1 392.6Q1004.5 405.7 1007.1 418.8Q1006.5 431.1 1006.9 443.5Q1007 457.2 1006.8 470.9Q1005.9 482.6 1006.5 494.3Q1007.6 507 1007.2 519.7Q1006.7 533 1004.6 546.4Q1005.6 560.3 1005.7 574.3Q1006.2 586.3 1006.9 598.4Q1006.4 611.3 1006.4 624.1Q1006.9 637.4 1007.4 650.6Q1007.6 664 1005.7 677.4Q1008 689.5 1007.2 701.5Q1006.5 713.8 1007.6 726.2Q1008.6 739.7 1007.4 753.2Q1007.5 766.8 1006.1 780.4Q1006.1 792.6 1005.9 804.8Q1005.4 818.1 1005.3 831.4Q1006.9 844.3 1006.8 857.2Q1007.5 870.4 1005.1 883.6Q1005.6 895.3 1006.1 907Q1004.2 919.9 1005.2 932.8Q1005.4 946.3 1005 959.8Q1005 973 1007 986.2Q1006.1 999.6 1007.7 1013M1032 238.5Q1032.7 250.9 1032.9 263.2Q1032.1 276.2 1032.7 289.2Q1033.4 302.5 1032.4 315.8Q1032.3 328.2 1032.9 340.6Q1032.7 352.8 1030.3 365Q1029.9 378.8 1032.3 392.5Q1033.9 404.8 1032.7 417Q1033.3 431.2 1032.6 445.4Q1030.6 456.8 1031.5 468.3Q1031.1 481.2 1032.2 494.1Q1033.8 508.1 1032.5 522.2Q1032.9 535.2 1031.2 548.3Q1029.8 561.1 1031.2 573.8Q1032 586.6 1030.9 599.3Q1030.4 611.6 1030.4 623.9Q1030.6 637.7 1031.3 651.4Q1032.9 663.1 1032.6 674.7Q1031 688.8 1031.5 702.9Q1032.7 715.2 1033.1 727.5Q1031.2 740.9 1030.5 754.3Q1031.7 766.9 1030.6 779.5Q1032.2 791.6 1031 803.6Q1031.9 817.1 1030.1 830.5Q1029.1 843.8 1030.1 857Q1029.9 870.1 1032.4 883.1Q1031.8 895.9 1031.6 908.6Q1031 921 1032.8 933.4Q1031.5 946.1 1031.9 958.7Q1032.2 973 1032.2 987.2Q1032.4 999.6 1031.1 1012M803.7 262.2Q815.6 263.5 827.5 264.3Q840.2 265.1 852.9 262.6Q866.5 263.7 880.1 263.1Q892.9 264.7 905.6 263.3Q917.9 264.4 930.2 264.8Q942 263.2 953.9 262.6Q967.9 264.6 981.8 263.8Q993.6 263.4 1005.5 262.4Q1019.2 263.2 1032.9 263.2Q1044.3 261.7 1055.6 262.4M801.7 287.5Q815 286.2 828.3 287.6Q840.9 287.4 853.4 290.3Q866.6 288.8 879.8 289.6Q891.3 287.8 902.8 287.4Q916.3 287.4 929.8 288.2Q942.4 289.7 955 289.8Q967.7 289.3 980.4 289.6Q992.5 289.2 1004.7 289.7Q1018.7 289.3 1032.7 289.2Q1044.7 289.8 1056.8 289.8M801.3 313.2Q814.6 314.4 827.8 313.4Q839.9 316.3 852.1 316.1Q866.1 314.6 880.1 314.8Q891.5 314.8 902.8 315.5Q917 315.2 931.3 315.4Q942.6 315.7 954 315.2Q967.3 315.1 980.5 315.9Q992.6 314 1004.7 314.1Q1018.6 316.3 1032.4 315.8Q1044.8 314.1 1057.2 313.5M801.5 340.6Q814.9 340.8 828.4 339.4Q841.6 340.8 854.9 341.2Q866.7 339.3 878.5 340.5Q891.7 339.2 904.8 339.4Q917 339.7 929.2 339.9Q942.1 341.4 954.9 341.5Q967.4 343 980 341.4Q993.4 340.5 1006.8 341.4Q1019.8 339.6 1032.9 340.6Q1045.2 341 1057.5 339.2M804.1 367Q815.5 368.3 827 366.9Q840.7 365.2 854.4 366Q867.1 365.5 879.9 365.7Q892.6 365.6 905.3 367.3Q916.8 365.5 928.3 365.1Q942 364.7 955.8 365.4Q967.7 365.8 979.6 366.7Q993.3 365.9 1007.1 365.6Q1018.7 364.5 1030.3 365Q1043.4 365.7 1056.5 367.9M802.2 391.9Q815.6 392.5 829.1 392.6Q842 392.7 854.9 393Q866.4 393.1 877.9 393.3Q891.3 391.8 904.8 392.4Q918.1 392.3 931.3 392.4Q943.6 393.2 955.9 391.8Q968 390.8 980.1 391.7Q992.6 391 1005.1 392.6Q1018.7 392.4 1032.3 392.5Q1044.7 390.5 1057.1 390.6M803.2 417.4Q815.3 417.1 827.3 418.5Q840.7 417.4 854 417.8Q866.4 419.6 878.8 418.5Q891.5 419.1 904.1 418.6Q917.4 417.7 930.7 417.2Q943.5 417.1 956.3 416.5Q968.1 416.3 980 416.5Q993.5 418 1007.1 418.8Q1019.9 418.3 1032.7 417Q1044.5 416.5 1056.2 417.3M801.2 444.9Q814.2 443 827.3 442.2Q839.9 444.9 852.6 444.4Q865.2 444.3 877.9 442.3Q890.9 443.9 904 445.2Q917.4 445.4 930.9 444.5Q942.8 443.6 954.7 443.9Q967 443.1 979.4 444.3Q993.2 444.9 1006.9 443.5Q1019.8 443.9 1032.6 445.4Q1044.3 445.1 1056 444.6M802.9 468.4Q815.1 470.5 827.3 470.2Q840.7 469.5 854.2 468Q866.1 468.7 878 469.4Q891.3 469.9 904.6 470.2Q917.8 469.2 931 469.6Q942.8 470.2 954.6 469.2Q967.9 469 981.2 470.1Q994 471.3 1006.8 470.9Q1019.2 470.5 1031.5 468.3Q1043.9 469.7 1056.3 470.1M801.2 494.1Q814.8 494.7 828.4 494.4Q840.6 493.8 852.8 495.5Q865.1 496.5 877.4 494.7Q891.6 495.7 905.7 496.9Q918.4 497.7 931.1 495.6Q943.3 494.9 955.5 494.6Q968 496.2 980.5 495.7Q993.5 494.5 1006.5 494.3Q1019.4 493.8 1032.2 494.1Q1044.7 494.7 1057.2 496.6M804 519.9Q816.6 522 829.1 522.3Q840.8 521.3 852.5 520Q866.4 519.9 880.3 521Q892.4 518.9 904.5 520Q916.6 522.4 928.7 522.5Q942.5 519.9 956.4 520.5Q969 521.2 981.6 522.8Q994.4 520.5 1007.2 519.7Q1019.9 521.6 1032.5 522.2Q1044.5 520 1056.5 519.6M803 548.5Q815.1 549.5 827.3 548.5Q839.9 548 852.5 545.5Q864.9 546.7 877.3 548Q890.9 548.5 904.4 548.3Q916.8 548.5 929.2 548.4Q942.5 548.5 955.9 548.5Q968.1 547.9 980.4 547.8Q992.5 545.9 1004.6 546.4Q1017.9 546 1031.2 548.3Q1044.4 548 1057.5 547.2M801.1 572.4Q814.2 570.7 827.2 571.4Q839.7 572.5 852.2 572.5Q865.3 572.6 878.3 571.8Q890.8 573 903.4 572Q916.7 572 930 572.5Q942 573 954 574Q967.8 573.4 981.7 573.9Q993.7 574.1 1005.7 574.3Q1018.5 574.7 1031.2 573.8Q1043.4 574.5 1055.6 572.7M802.5 599.9Q815.3 599 828 599.8Q840.7 600.5 853.5 599Q866.4 600.3 879.3 599.1Q891.5 598.4 903.6 597.7Q916.7 598.1 929.9 598.2Q942 599.7 954.2 598.5Q967.7 598.3 981.2 597.7Q994.1 597 1006.9 598.4Q1018.9 600 1030.9 599.3Q1043.4 599.4 1055.9 600.2M801.6 623.6Q814.9 623.1 828.3 624.5Q840.6 624.7 852.8 623.2Q865.6 623.7 878.3 625.1Q891.8 626.2 905.3 624.5Q916.9 623.4 928.4 622.9Q941.2 623.7 954 625.8Q967.9 624.2 981.7 624.6Q994 625.2 1006.4 624.1Q1018.4 623.1 1030.4 623.9Q1043.8 623.5 1057.2 625.4M801.7 648.8Q814.9 648.8 828 649.5Q841.4 650.8 854.8 650.6Q867.4 651.7 880.1 649.7Q891.6 651.5 903 650.2Q915.7 651.7 928.5 651.5Q941.6 652 954.6 650.2Q968.1 650.8 981.5 651Q994.5 650.7 1007.4 650.6Q1019.3 650.4 1031.3 651.4Q1044.4 652.4 1057.5 650.5M803.1 677Q815.2 677.3 827.4 675.7Q840.7 674.6 854 676.6Q866.5 674.4 878.9 674.4Q891.9 675.8 905 674.5Q917.1 675.8 929.3 674.5Q943 676.3 956.8 674.9Q968.3 674.1 979.8 674.6Q992.7 676 1005.7 677.4Q1019.2 677.1 1032.6 674.7Q1045.4 673.8 1058.2 674.5M802.3 700.3Q815.2 701.9 828.2 703.2Q840.5 701.4 852.9 702.1Q866 700.5 879.2 701.1Q891.3 700.3 903.4 700.2Q916.4 702 929.5 702.2Q941.7 700.8 953.9 702.4Q967.7 702.3 981.6 702.3Q994.4 700.6 1007.2 701.5Q1019.3 701.4 1031.5 702.9Q1044 703.9 1056.6 702.3M803.2 728.4Q814.9 729.2 826.6 726.8Q839.8 726.2 852.9 728.1Q866.1 727.4 879.4 728.4Q892.2 726.9 905 727.3Q917.6 727.3 930.2 728.9Q942 727 953.8 726.4Q966.5 724.9 979.2 726.1Q993.4 726.4 1007.6 726.2Q1020.4 726.5 1033.1 727.5Q1044.8 728.6 1056.5 728.9M803 752.9Q816.2 754.5 829.4 753.9Q841.9 754.4 854.5 751.9Q866.4 754.1 878.4 753.9Q890.6 751.8 902.8 752.6Q916.1 754.9 929.3 754.9Q941.9 752.1 954.5 751.8Q967.5 753.2 980.5 753.9Q993.9 754.3 1007.4 753.2Q1018.9 753.4 1030.5 754.3Q1043.5 755.1 1056.4 754.1M803.6 779.6Q815.1 779.6 826.6 779Q840.5 779.9 854.4 778Q867.4 777.4 880.3 778.1Q891.8 778.9 903.4 779.4Q915.8 778.8 928.2 778.1Q941.5 777.1 954.7 777.8Q967.1 779.5 979.5 779.8Q992.8 781.5 1006.1 780.4Q1018.4 780.7 1030.6 779.5Q1043.9 779.3 1057.2 779.3M802.8 805.1Q815.7 805.4 828.5 806.3Q840.2 804.3 851.9 803.6Q865.9 805.8 879.9 804.9Q892 806 904.1 804.7Q916.9 804 929.8 805.5Q943.2 803.7 956.6 805Q968.4 805 980.2 805.5Q993.1 806.5 1005.9 804.8Q1018.5 803.3 1031 803.6Q1044.6 805.8 1058.2 806.5M801.7 830.7Q814.2 832.5 826.7 832.1Q840.2 831.5 853.6 831.9Q867 831.1 880.3 829.4Q892.1 829.8 903.8 829.3Q916.7 829.2 929.5 831.7Q941.6 832.3 953.7 831.6Q966.9 830 980 829.9Q992.6 829.1 1005.3 831.4Q1017.7 830.2 1030.1 830.5Q1044.3 831.9 1058.6 830.3M803.5 857.2Q816.2 855.2 828.9 855.9Q841.8 854.8 854.8 855.5Q866.7 855.9 878.5 855.5Q891.2 855.3 903.8 857Q916.9 856.5 929.9 855Q942.2 857.2 954.4 857.8Q967 857.5 979.6 857.2Q993.2 857.8 1006.8 857.2Q1018.5 857.8 1030.1 857Q1043.7 856.8 1057.2 855.4M802.1 883.4Q815.1 885 828.1 883.4Q840.7 882.8 853.2 883.8Q865.7 882.3 878.1 883.6Q891.3 882.5 904.5 882.7Q917 884.3 929.4 882.9Q941.6 881.8 953.8 881.2Q967.4 881.1 981.1 881Q993.1 882.6 1005.1 883.6Q1018.7 883.9 1032.4 883.1Q1045.2 881.4 1057.9 882.8M803.6 906.7Q815.4 907.9 827.2 908.8Q840.9 907.6 854.7 909.2Q866.8 908.5 879 907.7Q891.1 905.7 903.3 906.7Q916.1 905.8 929 907.2Q941.9 908.4 954.8 909.2Q967.2 909.1 979.5 909.3Q992.8 907.3 1006.1 907Q1018.9 908.8 1031.6 908.6Q1044.3 907.5 1057 908.3M801.5 933.1Q814.8 931.7 828.2 932.6Q840.4 932 852.6 933.3Q866.5 932.5 880.4 932.6Q892.8 933.6 905.2 934.7Q917.7 935.4 930.3 933.9Q943.4 934 956.6 935.5Q968.3 936.3 979.9 935.4Q992.6 934.7 1005.2 932.8Q1019 933.4 1032.8 933.4Q1044.7 932.3 1056.6 933M801 960.6Q814.1 959.1 827.3 959.5Q839.8 960.6 852.3 959Q864.8 959.6 877.4 960.7Q891.1 961.9 904.9 961.3Q918.1 960 931.4 961.2Q942.8 961.7 954.3 959.4Q968.3 958.8 982.2 960.8Q993.6 959.6 1005 959.8Q1018.5 959.5 1031.9 958.7Q1044.4 960.6 1056.9 960.4M803 985.7Q814.9 987.8 826.8 987Q840 985.6 853.1 986.6Q866.1 985.2 879.1 986.7Q891.4 985.9 903.7 986.3Q916.5 985.3 929.2 984.1Q942.8 985.7 956.4 986.6Q968 986.6 979.5 984.3Q993.2 986.4 1007 986.2Q1019.6 987.3 1032.2 987.2Q1043.9 987.4 1055.7 984.8"/><path class="mk" d="M827.5 264.3h0M828.3 287.6h0M827.8 313.4h0M828.4 339.4h0M827 366.9h0M829.1 392.6h0M827.3 418.5h0M827.3 442.2h0M827.3 470.2h0M828.4 494.4h0M829.1 522.3h0M827.3 548.5h0M827.2 571.4h0M828 599.8h0M828.3 624.5h0M828 649.5h0M827.4 675.7h0M828.2 703.2h0M826.6 726.8h0M829.4 753.9h0M826.6 779h0M828.5 806.3h0M826.7 832.1h0M828.9 855.9h0M828.1 883.4h0M827.2 908.8h0M828.2 932.6h0M827.3 959.5h0M852.9 262.6h0M853.4 290.3h0M852.1 316.1h0M854.9 341.2h0M854.4 366h0M854.9 393h0M854 417.8h0M852.6 444.4h0M854.2 468h0M852.8 495.5h0M852.5 520h0M852.5 545.5h0M852.2 572.5h0M853.5 599h0M852.8 623.2h0M854.8 650.6h0M854 676.6h0M852.9 702.1h0M852.9 728.1h0M854.5 751.9h0M854.4 778h0M851.9 803.6h0M853.6 831.9h0M854.8 855.5h0M853.2 883.8h0M854.7 909.2h0M852.6 933.3h0M852.3 959h0M880.1 263.1h0M879.8 289.6h0M880.1 314.8h0M878.5 340.5h0M879.9 365.7h0M877.9 393.3h0M878.8 418.5h0M877.9 442.3h0M878 469.4h0M877.4 494.7h0M880.3 521h0M877.3 548h0M878.3 571.8h0M879.3 599.1h0M878.3 625.1h0M880.1 649.7h0M878.9 674.4h0M879.2 701.1h0M879.4 728.4h0M878.4 753.9h0M880.3 778.1h0M879.9 804.9h0M880.3 829.4h0M878.5 855.5h0M878.1 883.6h0M879 907.7h0M880.4 932.6h0M877.4 960.7h0M905.6 263.3h0M902.8 287.4h0M902.8 315.5h0M904.8 339.4h0M905.3 367.3h0M904.8 392.4h0M904.1 418.6h0M904 445.2h0M904.6 470.2h0M905.7 496.9h0M904.5 520h0M904.4 548.3h0M903.4 572h0M903.6 597.7h0M905.3 624.5h0M903 650.2h0M905 674.5h0M903.4 700.2h0M905 727.3h0M902.8 752.6h0M903.4 779.4h0M904.1 804.7h0M903.8 829.3h0M903.8 857h0M904.5 882.7h0M903.3 906.7h0M905.2 934.7h0M904.9 961.3h0M930.2 264.8h0M929.8 288.2h0M931.3 315.4h0M929.2 339.9h0M928.3 365.1h0M931.3 392.4h0M930.7 417.2h0M930.9 444.5h0M931 469.6h0M931.1 495.6h0M928.7 522.5h0M929.2 548.4h0M930 572.5h0M929.9 598.2h0M928.4 622.9h0M928.5 651.5h0M929.3 674.5h0M929.5 702.2h0M930.2 728.9h0M929.3 754.9h0M928.2 778.1h0M929.8 805.5h0M929.5 831.7h0M929.9 855h0M929.4 882.9h0M929 907.2h0M930.3 933.9h0M931.4 961.2h0M953.9 262.6h0M955 289.8h0M954 315.2h0M954.9 341.5h0M955.8 365.4h0M955.9 391.8h0M956.3 416.5h0M954.7 443.9h0M954.6 469.2h0M955.5 494.6h0M956.4 520.5h0M955.9 548.5h0M954 574h0M954.2 598.5h0M954 625.8h0M954.6 650.2h0M956.8 674.9h0M953.9 702.4h0M953.8 726.4h0M954.5 751.8h0M954.7 777.8h0M956.6 805h0M953.7 831.6h0M954.4 857.8h0M953.8 881.2h0M954.8 909.2h0M956.6 935.5h0M954.3 959.4h0M981.8 263.8h0M980.4 289.6h0M980.5 315.9h0M980 341.4h0M979.6 366.7h0M980.1 391.7h0M980 416.5h0M979.4 444.3h0M981.2 470.1h0M980.5 495.7h0M981.6 522.8h0M980.4 547.8h0M981.7 573.9h0M981.2 597.7h0M981.7 624.6h0M981.5 651h0M979.8 674.6h0M981.6 702.3h0M979.2 726.1h0M980.5 753.9h0M979.5 779.8h0M980.2 805.5h0M980 829.9h0M979.6 857.2h0M981.1 881h0M979.5 909.3h0M979.9 935.4h0M982.2 960.8h0M1005.5 262.4h0M1004.7 289.7h0M1004.7 314.1h0M1006.8 341.4h0M1007.1 365.6h0M1005.1 392.6h0M1007.1 418.8h0M1006.9 443.5h0M1006.8 470.9h0M1006.5 494.3h0M1007.2 519.7h0M1004.6 546.4h0M1005.7 574.3h0M1006.9 598.4h0M1006.4 624.1h0M1007.4 650.6h0M1005.7 677.4h0M1007.2 701.5h0M1007.6 726.2h0M1007.4 753.2h0M1006.1 780.4h0M1005.9 804.8h0M1005.3 831.4h0M1006.8 857.2h0M1005.1 883.6h0M1006.1 907h0M1005.2 932.8h0M1005 959.8h0"/></g>
<rect x="742.3" y="226.1" width="73.8" height="762.9" fill="url(#sg4)"/>
<rect x="795.3" y="226.1" width="228.7" height="23.8" fill="#FA6E3D"/>
<rect x="795.3" y="226.1" width="20.8" height="23.8" fill="#FB7A4E"/>
<path class="st" d="M806.3 240.7H1024 M809.3 244.9H1024"/>
<path class="st" d="M747.3 243.1H794.3"/>
<path class="sv" d="M808.3 251.9V988 M812.8 251.9V988"/>
<path class="sc" d="M799 227.7v4.4M799 236v4.4M799 244.3v4.4M803.8 227.7v4.4M803.8 236v4.4M803.8 244.3v4.4M808.4 227.7v4.4M808.4 236v4.4M808.4 244.3v4.4M813 227.7v4.4M813 236v4.4M813 244.3v4.4"/>
<rect x="795.3" y="965.2" width="228.7" height="23.8" fill="#FA6E3D"/>
<path class="st" d="M806.3 970.2H1024 M809.3 974.4H1024"/>
<path class="st" d="M747.3 972.2H794.3"/>
<path class="sc" d="M799 966.8v4.4M799 975.1v4.4M799 983.4v4.4M803.8 966.8v4.4M803.8 975.1v4.4M803.8 983.4v4.4M808.4 966.8v4.4M808.4 975.1v4.4M808.4 983.4v4.4M813 966.8v4.4M813 975.1v4.4M813 983.4v4.4"/>
<path d="M751.8 989h6v6h-6z m9 0h7v6h-7z m10 0h6v6h-6z" fill="#1a1a1a"/>
<g clip-path="url(#p4)"><use href="#pole" x="30.5" y="765.6"/></g>
<g clip-path="url(#c4)"><path class="ml" d="M115.1 818.7Q114.9 831.7 116.3 844.7Q117 857.9 115.2 871.1Q116.3 884.3 114.7 897.6Q114.8 911.1 116 924.6Q116.3 937.2 116.3 949.7Q117.7 962.7 116.2 975.6Q116.1 987.9 116.1 1000.2Q116 1014.2 117.8 1028.3Q116.1 1040.7 117.3 1053.2M141.1 819.4Q142.4 832.1 141 844.7Q142.7 858.2 142.5 871.6Q142.3 884.5 142.8 897.3Q143 911 143.1 924.6Q141.6 936.5 140.1 948.4Q140.8 961.7 143 975Q144.6 987.8 143.2 1000.6Q142.2 1013.8 140.3 1027.1Q140.6 1039.4 142.5 1051.8M165.8 819.8Q165.6 833.3 168.6 846.9Q167.1 859 165.9 871.1Q165.4 883.7 165.8 896.3Q167.9 909.4 168.1 922.5Q168.4 935.8 167.3 949.1Q167 962.5 166.1 975.8Q164.9 988.6 165.9 1001.4Q164.8 1013.9 165.9 1026.4Q165.5 1039.1 166.2 1051.8M194.1 821.3Q192.2 834.3 191.9 847.3Q193 859.4 191.6 871.6Q192.7 884.9 193.7 898.2Q192.9 911.6 191.3 925.1Q193 936.8 191.6 948.5Q191.8 961.5 193.4 974.6Q192.8 987 191.9 999.5Q190.5 1013.2 191.2 1027Q192.3 1039.9 191.7 1052.8M217.6 820.2Q216.9 833.1 219.5 846Q219.9 859.6 218.2 873.1Q218.7 884.8 217 896.6Q219.2 910.6 219.3 924.5Q216.9 936.4 217.2 948.3Q217.2 962.4 218.8 976.5Q218.6 989.4 217 1002.3Q216.8 1014.7 219.2 1027Q218.4 1039.1 217.7 1051.2M242 821.8Q242.2 834.3 242.6 846.8Q244.1 859.8 242.7 872.9Q243.5 885 243.8 897Q244.2 910.6 242.4 924.2Q241.6 936.3 242.1 948.4Q243.8 962.3 243.6 976.2Q243.5 988.2 243.8 1000.2Q245.6 1013 244.8 1025.8Q242 1038.8 241.9 1051.8M268.7 818.9Q269.3 832.3 267.9 845.7Q267.6 858.2 269.1 870.7Q268.9 884.8 268.5 899Q269.5 911.5 270.4 924Q268.9 936.8 269.5 949.6Q269.7 961.6 267.7 973.6Q266.9 987.9 267.4 1002.2Q267.8 1015.2 269.5 1028.2Q267.1 1040.6 267.4 1052.9M294.3 821Q293.4 834.4 293.8 847.7Q293.3 859.9 293 872Q294.7 885.5 295.1 899Q294.7 911.6 295.1 924.2Q295.8 937.4 295.3 950.6Q293.3 963.2 293.9 975.7Q294.4 988.9 295.6 1002.1Q294.7 1014.9 294.1 1027.6Q296.3 1040.2 295.5 1052.7M320.2 819.9Q321.2 833.2 320.1 846.4Q319.8 859.4 318.5 872.3Q318.4 885.6 321.4 898.9Q320.6 911 320.5 923.1Q321.2 936.4 320.6 949.6Q319.2 962.9 319.6 976.2Q319.2 988.9 318.5 1001.7Q318.2 1014.4 318.3 1027Q317.5 1039.3 319.7 1051.6M345.9 820.3Q347.3 833.9 345.6 847.4Q346 858.9 344.5 870.3Q343.6 884.3 344.6 898.3Q344.8 910.4 344.3 922.4Q344.8 936.1 346.5 949.8Q345.4 963.1 345.1 976.4Q345 988.9 344.7 1001.4Q343.8 1014 344.3 1026.5Q344.7 1040.2 346.2 1053.8M371.9 819.9Q371.1 832.7 371 845.5Q370.8 858.7 369.5 871.9Q369.9 885.4 371.8 898.8Q370.6 911.9 371.4 924.9Q371.4 936.6 370 948.2Q369.7 961.3 370.5 974.4Q371.6 987.5 369.8 1000.6Q370.6 1013.7 371.1 1026.7Q371.3 1040.1 370.1 1053.6M397.7 820.1Q395.7 832.4 394.8 844.6Q397.1 857.5 397.3 870.4Q395.8 884.2 396.8 897.9Q395 911.2 395.5 924.4Q393.8 936.3 394.6 948.1Q395.9 960.9 396 973.6Q397.3 986.8 397.2 1000.1Q395.1 1012.7 395 1025.3Q395.5 1038.8 396.6 1052.3M422 820.8Q423.4 834.2 422.6 847.6Q422.7 859.3 422.2 870.9Q420.5 883.8 421.5 896.7Q419.9 910 420 923.4Q420.1 935.8 422.3 948.3Q420.4 961.4 420.9 974.6Q421.3 987.8 422.2 1001Q420.7 1014.2 422 1027.5Q423 1040.5 421.3 1053.4M448.3 819Q448.2 832.9 448.4 846.8Q447.2 859.3 445.9 871.8Q447.1 885.4 447.5 899Q447.9 911.4 446.7 923.7Q448.5 937 448.3 950.2Q448 962.6 448.5 975Q447.5 987.5 447.5 1000Q447.4 1013.8 447.8 1027.7Q446.1 1040.5 447.5 1053.2M471.6 821.6Q472.5 834.6 474 847.6Q474 860.2 472.6 872.8Q473.8 885.9 471.9 899Q473.7 911 473.6 923Q472.9 936.1 471.2 949.1Q472.3 962.5 472.7 976Q471 987.7 472.5 999.4Q472.4 1012.3 473.5 1025.3Q473 1038.4 473.5 1051.5M497.4 821.2Q497.6 833.1 496.8 845Q496.1 858.8 498 872.6Q498.1 885.5 499 898.3Q499.2 910.9 499.4 923.5Q500.3 935.7 499.4 948Q499.3 961.6 497.1 975.2Q497.5 988.4 497.3 1001.6Q496.7 1014.2 498.4 1026.8Q499.6 1039.7 499 1052.7M522.8 819.9Q524.9 833.7 524.5 847.4Q523.6 860.2 522.5 873Q523.2 885.4 524.9 897.8Q524.3 910.2 523.6 922.5Q522.4 935.9 523.5 949.3Q524.3 961.4 523.7 973.6Q525.9 987.3 524.9 1001Q524 1014.3 523.1 1027.7Q524 1040.1 523.6 1052.5M549.5 818.9Q550.3 832.4 549 845.8Q548.7 859.5 550.3 873.3Q550.6 885.4 548.1 897.6Q548.3 910.5 547.7 923.3Q547.8 936.9 549.9 950.6Q548 962.5 548.8 974.5Q547.5 987.9 547.9 1001.3Q549.3 1013.4 550.2 1025.5Q550.6 1038.2 549.7 1051M573.3 819.4Q573.6 832.5 574.9 845.5Q575.7 858.9 573.8 872.3Q573 885.4 573 898.4Q572.9 911 573.1 923.5Q572.1 935.9 573.5 948.3Q575.5 961.6 574.4 974.9Q573 987.8 573.9 1000.6Q575.4 1013.1 574.4 1025.6Q574 1039.3 573.4 1052.9M600.2 820.4Q600.7 833.4 600.9 846.5Q601.1 858.8 600.9 871Q600 884.9 600.5 898.7Q602.1 910.8 601 922.9Q601.7 936.8 599.2 950.7Q600 963.7 598.8 976.7Q600.2 988.2 601 999.7Q598.7 1013.6 598.9 1027.4Q600 1039.3 599 1051.2M626.3 820Q625.5 832.5 626.1 844.9Q626.8 858.7 624.9 872.5Q623.4 884.6 623.7 896.7Q625 910.8 625.8 924.8Q627.3 936.4 626.7 948.1Q625 962 625.2 975.9Q625.4 988.7 625.2 1001.5Q623.4 1013.4 624.2 1025.3Q622.6 1038.2 623.9 1051M650.8 820.3Q649.8 832.7 650.9 845Q651.8 858 649.6 871Q652.1 885.1 651.7 899.3Q652.4 910.7 652 922.2Q650 936.5 649.2 950.7Q650.4 963.3 650.5 975.9Q651.1 988.4 650.1 1000.8Q650 1013.6 650.7 1026.5Q651.1 1038.7 651 1050.9M676.7 821.4Q676.9 833.7 675.1 846Q674.4 858.8 676.9 871.6Q675 884.1 675.1 896.6Q675.5 909.3 676.1 921.9Q675.6 936.1 677.4 950.3Q676.7 963.3 676.8 976.3Q676.9 988.4 676.5 1000.6Q675.4 1013.7 676.4 1026.7Q677.1 1040.1 677.6 1053.5M700.8 821.6Q700.8 834.3 702.3 847Q702.7 859.3 702.6 871.6Q702.2 885.3 702.8 898.9Q702.9 911.6 702.2 924.4Q700.8 936.7 702.4 949Q702.9 961.4 702.3 973.7Q700.5 987.3 701 1000.8Q702 1013.5 700 1026.2Q701.3 1039.6 702 1052.9M726.1 821.7Q726.7 833.7 727.5 845.6Q727.2 858.9 727.5 872.1Q727.7 884.7 727.1 897.3Q728.5 910.7 728.6 924Q728.9 937 727.6 950.1Q728.9 961.9 728.5 973.6Q727.9 987.6 727.4 1001.7Q728.4 1014 726.2 1026.4Q727 1039 725.6 1051.5M752.1 819Q753 833.2 751.7 847.4Q751.8 859.7 752.6 871.9Q753.1 884.9 753.9 897.9Q754.2 910.9 754 923.9Q755 935.9 753.4 947.9Q753.2 961.9 752.8 975.9Q752 989.1 751 1002.3Q751 1014.4 751.4 1026.6Q752.7 1039.5 751.4 1052.5M778.3 818.9Q778.2 832.4 779.3 845.8Q777.2 859 778 872.2Q778.4 884.6 777.5 897Q779.2 910.4 778.4 923.7Q778.5 936.8 777.2 950Q777.5 961.8 777.2 973.5Q778 986.5 777.1 999.4Q776.3 1013.5 776.8 1027.5Q777.5 1040.6 777.5 1053.8M804.1 818.9Q803.2 833.2 804.9 847.5Q802.2 860.4 802 873.2Q802.4 885.4 803.1 897.6Q804 910.2 804.9 922.7Q803.8 936.7 803.4 950.7Q802.3 962.8 804.1 975Q805.1 988.5 804.9 1001.9Q804.4 1013.7 803.7 1025.5Q802.9 1038.9 803.7 1052.4M827.9 818.9Q827.8 831.9 828.9 844.9Q828.4 858.7 828.6 872.4Q827.8 884.7 828.7 896.9Q827.5 910.1 829.1 923.2Q830.7 936.3 829.7 949.4Q831.5 963 830.4 976.5Q830.5 988.3 829.5 1000.1Q829.7 1014 827.6 1028Q828.4 1040.4 829.7 1052.9M853.8 819.6Q855.3 832.9 854.8 846.3Q853.8 859.3 854.5 872.3Q855.6 884.5 855.1 896.7Q854.5 910.9 853.4 925Q855.8 937.8 855.6 950.5Q852.9 962.1 852.8 973.7Q854.1 987.2 853.5 1000.7Q852.9 1013 854.6 1025.4Q854.6 1038.3 854.4 1051.1M878.4 820.9Q880.6 833.7 879.9 846.5Q878 859.2 879.3 871.8Q878.2 884.5 878.8 897.2Q879 910.9 880.5 924.6Q878.8 936.3 878.3 948.1Q878.1 961.8 880.7 975.5Q881.9 987.7 880.6 1000Q881 1013 879.5 1025.9Q879.7 1039 880.7 1052.1M905.6 821.9Q904.7 834.1 904.6 846.3Q905.5 859.8 905.9 873.2Q904 885.3 904.9 897.3Q902.9 911 903.9 924.7Q905.1 936.3 903.8 948Q904 961.5 905.4 975.1Q905.5 987.7 905.7 1000.3Q907.3 1012.8 906 1025.3Q906.7 1039.2 904.2 1053M929.3 819.7Q930.2 833.2 931.3 846.7Q929.7 858.7 929.9 870.8Q929.4 884.6 930.1 898.4Q931.5 910.3 930.2 922.3Q932 935.9 931.3 949.5Q930.6 963 931.9 976.5Q933 988.6 931.9 1000.7Q931.3 1013.4 931.6 1026.1Q930.7 1039.1 930 1052.2M957.4 821.6Q955.3 833.6 955.2 845.7Q956.6 858.6 955.6 871.5Q957.3 884.4 955.7 897.3Q954.4 910.5 955.1 923.7Q956.5 936.6 957 949.4Q956.1 962.4 957.1 975.3Q957.3 988.5 955 1001.7Q954.7 1013.9 957.3 1026Q954.6 1039.3 954.5 1052.6M981.6 820.5Q983 833.5 983 846.6Q982.1 858.5 982.5 870.5Q983.3 884.6 981.6 898.6Q982.1 910.4 980.2 922.2Q981.9 936.4 982.3 950.6Q980 963.1 980.2 975.5Q980.9 988.6 980.4 1001.7Q982.6 1013.8 982 1025.9Q981.1 1039.6 980.6 1053.3M1007 821.1Q1005.5 833.4 1006.6 845.6Q1006.6 859 1008.4 872.5Q1007.1 885.1 1006.9 897.8Q1008 911 1007.7 924.2Q1007 936.6 1008.3 949Q1007.1 962.3 1008 975.6Q1007.2 988.8 1008.1 1001.9Q1008.6 1014.9 1008 1027.9Q1009.1 1040.4 1008.4 1052.9M1032.5 821Q1032.5 833.4 1033.4 845.8Q1033.3 858.3 1032.1 870.8Q1033.9 885 1033.2 899.3Q1032.9 910.9 1032 922.4Q1030.9 935.7 1031.5 949.1Q1031 962.8 1031.7 976.6Q1032.7 988.4 1031 1000.3Q1031.6 1013.7 1031.2 1027.2Q1031.5 1039.3 1033.3 1051.5M92.1 846Q104.2 845.8 116.3 844.7Q128.6 843.4 141 844.7Q154.8 847.4 168.6 846.9Q180.3 846.9 191.9 847.3Q205.7 846.8 219.5 846Q231 846.5 242.6 846.8Q255.2 844.8 267.9 845.7Q280.8 847 293.8 847.7Q306.9 846.4 320.1 846.4Q332.8 846.1 345.6 847.4Q358.3 847.4 371 845.5Q382.9 843.7 394.8 844.6Q408.7 845.4 422.6 847.6Q435.5 848 448.4 846.8Q461.2 846.4 474 847.6Q485.4 845.6 496.8 845Q510.7 846.3 524.5 847.4Q536.7 845.6 549 845.8Q561.9 846.9 574.9 845.5Q587.9 847.6 600.9 846.5Q613.5 844.2 626.1 844.9Q638.5 844.8 650.9 845Q663 846.3 675.1 846Q688.7 846.1 702.3 847Q714.9 847.7 727.5 845.6Q739.6 846.5 751.7 847.4Q765.5 845.6 779.3 845.8Q792.1 846.9 804.9 847.5Q816.9 846.7 828.9 844.9Q841.9 845.2 854.8 846.3Q867.4 846.9 879.9 846.5Q892.2 847.3 904.6 846.3Q918 846.5 931.3 846.7Q943.3 846.2 955.2 845.7Q969.1 847.2 983 846.6Q994.8 846.7 1006.6 845.6Q1020 845.8 1033.4 845.8Q1045.7 848.1 1058.1 847.4M90.8 872.2Q103 870.6 115.2 871.1Q128.9 872.2 142.5 871.6Q154.2 870.3 165.9 871.1Q178.8 871.7 191.6 871.6Q204.9 871.5 218.2 873.1Q230.5 872.8 242.7 872.9Q255.9 872.7 269.1 870.7Q281.1 872.3 293 872Q305.7 873.1 318.5 872.3Q331.5 870.5 344.5 870.3Q357 871.1 369.5 871.9Q383.4 870.3 397.3 870.4Q409.8 870.9 422.2 870.9Q434 871.3 445.9 871.8Q459.2 870.8 472.6 872.8Q485.3 873 498 872.6Q510.2 873.5 522.5 873Q536.4 873.4 550.3 873.3Q562.1 874 573.8 872.3Q587.4 870.6 600.9 871Q612.9 870.7 624.9 872.5Q637.3 870.2 649.6 871Q663.3 871.3 676.9 871.6Q689.7 871.4 702.6 871.6Q715 871.7 727.5 872.1Q740.1 871.3 752.6 871.9Q765.3 873 778 872.2Q790 871.3 802 873.2Q815.3 874.1 828.6 872.4Q841.6 872.6 854.5 872.3Q866.9 872.2 879.3 871.8Q892.6 873.5 905.9 873.2Q917.9 871.2 929.9 870.8Q942.8 870 955.6 871.5Q969 870.4 982.5 870.5Q995.5 870 1008.4 872.5Q1020.3 871 1032.1 870.8Q1044.3 871.1 1056.4 870.6M89.7 897.7Q102.2 897.7 114.7 897.6Q128.7 896.7 142.8 897.3Q154.3 897.1 165.8 896.3Q179.8 895.9 193.7 898.2Q205.3 898.4 217 896.6Q230.4 895.8 243.8 897Q256.1 897.2 268.5 899Q281.8 897.9 295.1 899Q308.2 899.6 321.4 898.9Q333 899.7 344.6 898.3Q358.2 899.5 371.8 898.8Q384.3 897 396.8 897.9Q409.2 897 421.5 896.7Q434.5 897.4 447.5 899Q459.7 898.1 471.9 899Q485.5 900.2 499 898.3Q512 896.6 524.9 897.8Q536.5 897.7 548.1 897.6Q560.6 898.9 573 898.4Q586.8 900.1 600.5 898.7Q612.1 896.6 623.7 896.7Q637.7 897.9 651.7 899.3Q663.4 898.7 675.1 896.6Q689 896.3 702.8 898.9Q715 897.3 727.1 897.3Q740.5 898.9 753.9 897.9Q765.7 896.3 777.5 897Q790.3 897 803.1 897.6Q815.9 896.6 828.7 896.9Q841.9 896.6 855.1 896.7Q866.9 895.6 878.8 897.2Q891.8 895.8 904.9 897.3Q917.5 899.4 930.1 898.4Q942.9 898.7 955.7 897.3Q968.7 898.7 981.6 898.6Q994.3 897.4 1006.9 897.8Q1020.1 897.8 1033.2 899.3Q1045 898.2 1056.8 896.8M91.2 924.4Q103.6 923.7 116 924.6Q129.6 924.5 143.1 924.6Q155.6 924.9 168.1 922.5Q179.7 923.3 191.3 925.1Q205.3 924.3 219.3 924.5Q230.9 925.9 242.4 924.2Q256.4 924.5 270.4 924Q282.8 922.6 295.1 924.2Q307.8 923.3 320.5 923.1Q332.4 923.3 344.3 922.4Q357.8 922.3 371.4 924.9Q383.5 924.2 395.5 924.4Q407.8 924.5 420 923.4Q433.3 924.7 446.7 923.7Q460.1 923.7 473.6 923Q486.5 924.5 499.4 923.5Q511.5 922.9 523.6 922.5Q535.6 922.6 547.7 923.3Q560.4 924.5 573.1 923.5Q587.1 922.8 601 922.9Q613.4 924.8 625.8 924.8Q638.9 922.6 652 922.2Q664.1 921.6 676.1 921.9Q689.2 922.1 702.2 924.4Q715.4 924.3 728.6 924Q741.3 922.9 754 923.9Q766.2 922.9 778.4 923.7Q791.6 922.3 804.9 922.7Q817 922.9 829.1 923.2Q841.3 923.5 853.4 925Q867 924.6 880.5 924.6Q892.2 926.2 903.9 924.7Q917 924.1 930.2 922.3Q942.6 924.2 955.1 923.7Q967.6 922 980.2 922.2Q993.9 922.8 1007.7 924.2Q1019.8 921.9 1032 922.4Q1044.5 923.9 1057 924.2M89.5 948.7Q102.9 948.8 116.3 949.7Q128.2 948.3 140.1 948.4Q153.7 947.2 167.3 949.1Q179.5 947.8 191.6 948.5Q204.4 947.7 217.2 948.3Q229.6 948 242.1 948.4Q255.8 950.4 269.5 949.6Q282.4 950.8 295.3 950.6Q307.9 949.4 320.6 949.6Q333.6 949.2 346.5 949.8Q358.3 947.9 370 948.2Q382.3 949.6 394.6 948.1Q408.4 947.8 422.3 948.3Q435.3 950.1 448.3 950.2Q459.7 950.4 471.2 949.1Q485.3 949.8 499.4 948Q511.5 947.1 523.5 949.3Q536.7 949.4 549.9 950.6Q561.7 949.1 573.5 948.3Q586.3 948.2 599.2 950.7Q612.9 950.6 626.7 948.1Q638 948.8 649.2 950.7Q663.3 951.4 677.4 950.3Q689.9 949.7 702.4 949Q715 948.1 727.6 950.1Q740.5 948.7 753.4 947.9Q765.3 948.1 777.2 950Q790.3 948.9 803.4 950.7Q816.6 948.9 829.7 949.4Q842.6 950.3 855.6 950.5Q867 947.8 878.3 948.1Q891.1 947.4 903.8 948Q917.5 948.5 931.3 949.5Q944.1 949.6 957 949.4Q969.6 948.8 982.3 950.6Q995.3 950.5 1008.3 949Q1019.9 948.3 1031.5 949.1Q1044.8 949.5 1058.2 948.4M89.4 976.1Q102.8 976.4 116.2 975.6Q129.6 974.2 143 975Q154.5 974.5 166.1 975.8Q179.8 974.5 193.4 974.6Q206.1 976.2 218.8 976.5Q231.2 976.1 243.6 976.2Q255.7 974.6 267.7 973.6Q280.8 975.8 293.9 975.7Q306.7 975.1 319.6 976.2Q332.3 975.6 345.1 976.4Q357.8 974.9 370.5 974.4Q383.3 973.1 396 973.6Q408.4 972.6 420.9 974.6Q434.7 973.3 448.5 975Q460.6 975.9 472.7 976Q484.9 975.8 497.1 975.2Q510.4 975.4 523.7 973.6Q536.3 975.6 548.8 974.5Q561.6 974.1 574.4 974.9Q586.6 976.3 598.8 976.7Q612 977.7 625.2 975.9Q637.9 975 650.5 975.9Q663.6 976.7 676.8 976.3Q689.5 975.5 702.3 973.7Q715.4 975.1 728.5 973.6Q740.6 975.9 752.8 975.9Q765 973.9 777.2 973.5Q790.7 974.7 804.1 975Q817.2 974.5 830.4 976.5Q841.6 974.9 852.8 973.7Q866.7 974.3 880.7 975.5Q893 973.9 905.4 975.1Q918.6 975.4 931.9 976.5Q944.5 975.4 957.1 975.3Q968.6 975.4 980.2 975.5Q994.1 974.9 1008 975.6Q1019.9 975 1031.7 976.6Q1044.3 975.2 1056.8 974.4M91.4 999.4Q103.7 999.7 116.1 1000.2Q129.6 999.3 143.2 1000.6Q154.6 1001.5 165.9 1001.4Q178.9 999.6 191.9 999.5Q204.5 999.6 217 1002.3Q230.4 1000.8 243.8 1000.2Q255.6 1001 267.4 1002.2Q281.5 1001 295.6 1002.1Q307.1 1002.2 318.5 1001.7Q331.6 1002.2 344.7 1001.4Q357.2 1001.2 369.8 1000.6Q383.5 1001 397.2 1000.1Q409.7 999 422.2 1001Q434.9 1000.1 447.5 1000Q460 999.2 472.5 999.4Q484.9 999.1 497.3 1001.6Q511.1 1001 524.9 1001Q536.4 999.7 547.9 1001.3Q560.9 1000.9 573.9 1000.6Q587.4 1000.5 601 999.7Q613.1 1000.5 625.2 1001.5Q637.7 1000.6 650.1 1000.8Q663.3 999.9 676.5 1000.6Q688.8 999.2 701 1000.8Q714.2 1000.7 727.4 1001.7Q739.2 1003.2 751 1002.3Q764 1001.1 777.1 999.4Q791 999.9 804.9 1001.9Q817.2 1001.5 829.5 1000.1Q841.5 999.4 853.5 1000.7Q867 1000.2 880.6 1000Q893.2 1000.5 905.7 1000.3Q918.8 1001.9 931.9 1000.7Q943.5 1000.8 955 1001.7Q967.7 1002 980.4 1001.7Q994.2 1003.2 1008.1 1001.9Q1019.5 1002 1031 1000.3Q1043.9 1001.4 1056.8 1001.7M92.3 1028.2Q105 1028.6 117.8 1028.3Q129 1027.4 140.3 1027.1Q153.1 1026.5 165.9 1026.4Q178.6 1026 191.2 1027Q205.2 1028.1 219.2 1027Q232 1027.6 244.8 1025.8Q257.2 1026.6 269.5 1028.2Q281.8 1029.2 294.1 1027.6Q306.2 1025.8 318.3 1027Q331.3 1025.6 344.3 1026.5Q357.7 1026.6 371.1 1026.7Q383.1 1025.4 395 1025.3Q408.5 1025.9 422 1027.5Q434.9 1029.1 447.8 1027.7Q460.6 1025.4 473.5 1025.3Q485.9 1025.1 498.4 1026.8Q510.7 1026.3 523.1 1027.7Q536.6 1027.2 550.2 1025.5Q562.3 1024.7 574.4 1025.6Q586.7 1024.9 598.9 1027.4Q611.6 1026.5 624.2 1025.3Q637.5 1025.6 650.7 1026.5Q663.6 1025.8 676.4 1026.7Q688.2 1026.5 700 1026.2Q713.1 1026.8 726.2 1026.4Q738.8 1026.7 751.4 1026.6Q764.1 1027.5 776.8 1027.5Q790.2 1026.7 803.7 1025.5Q815.6 1027.8 827.6 1028Q841.1 1028.2 854.6 1025.4Q867.1 1025.1 879.5 1025.9Q892.7 1025.1 906 1025.3Q918.8 1026.9 931.6 1026.1Q944.4 1025.4 957.3 1026Q969.6 1026.6 982 1025.9Q995 1027.5 1008 1027.9Q1019.6 1028.2 1031.2 1027.2Q1044.2 1028.5 1057.2 1026.9"/><path class="mk" d="M116.3 844.7h0M115.2 871.1h0M114.7 897.6h0M116 924.6h0M116.3 949.7h0M116.2 975.6h0M116.1 1000.2h0M141 844.7h0M142.5 871.6h0M142.8 897.3h0M143.1 924.6h0M140.1 948.4h0M143 975h0M143.2 1000.6h0M168.6 846.9h0M165.9 871.1h0M165.8 896.3h0M168.1 922.5h0M167.3 949.1h0M166.1 975.8h0M165.9 1001.4h0M191.9 847.3h0M191.6 871.6h0M193.7 898.2h0M191.3 925.1h0M191.6 948.5h0M193.4 974.6h0M191.9 999.5h0M219.5 846h0M218.2 873.1h0M217 896.6h0M219.3 924.5h0M217.2 948.3h0M218.8 976.5h0M217 1002.3h0M242.6 846.8h0M242.7 872.9h0M243.8 897h0M242.4 924.2h0M242.1 948.4h0M243.6 976.2h0M243.8 1000.2h0M267.9 845.7h0M269.1 870.7h0M268.5 899h0M270.4 924h0M269.5 949.6h0M267.7 973.6h0M267.4 1002.2h0M293.8 847.7h0M293 872h0M295.1 899h0M295.1 924.2h0M295.3 950.6h0M293.9 975.7h0M295.6 1002.1h0M320.1 846.4h0M318.5 872.3h0M321.4 898.9h0M320.5 923.1h0M320.6 949.6h0M319.6 976.2h0M318.5 1001.7h0M345.6 847.4h0M344.5 870.3h0M344.6 898.3h0M344.3 922.4h0M346.5 949.8h0M345.1 976.4h0M344.7 1001.4h0M371 845.5h0M369.5 871.9h0M371.8 898.8h0M371.4 924.9h0M370 948.2h0M370.5 974.4h0M369.8 1000.6h0M394.8 844.6h0M397.3 870.4h0M396.8 897.9h0M395.5 924.4h0M394.6 948.1h0M396 973.6h0M397.2 1000.1h0M422.6 847.6h0M422.2 870.9h0M421.5 896.7h0M420 923.4h0M422.3 948.3h0M420.9 974.6h0M422.2 1001h0M448.4 846.8h0M445.9 871.8h0M447.5 899h0M446.7 923.7h0M448.3 950.2h0M448.5 975h0M447.5 1000h0M474 847.6h0M472.6 872.8h0M471.9 899h0M473.6 923h0M471.2 949.1h0M472.7 976h0M472.5 999.4h0M496.8 845h0M498 872.6h0M499 898.3h0M499.4 923.5h0M499.4 948h0M497.1 975.2h0M497.3 1001.6h0M524.5 847.4h0M522.5 873h0M524.9 897.8h0M523.6 922.5h0M523.5 949.3h0M523.7 973.6h0M524.9 1001h0M549 845.8h0M550.3 873.3h0M548.1 897.6h0M547.7 923.3h0M549.9 950.6h0M548.8 974.5h0M547.9 1001.3h0M574.9 845.5h0M573.8 872.3h0M573 898.4h0M573.1 923.5h0M573.5 948.3h0M574.4 974.9h0M573.9 1000.6h0M600.9 846.5h0M600.9 871h0M600.5 898.7h0M601 922.9h0M599.2 950.7h0M598.8 976.7h0M601 999.7h0M626.1 844.9h0M624.9 872.5h0M623.7 896.7h0M625.8 924.8h0M626.7 948.1h0M625.2 975.9h0M625.2 1001.5h0M650.9 845h0M649.6 871h0M651.7 899.3h0M652 922.2h0M649.2 950.7h0M650.5 975.9h0M650.1 1000.8h0M675.1 846h0M676.9 871.6h0M675.1 896.6h0M676.1 921.9h0M677.4 950.3h0M676.8 976.3h0M676.5 1000.6h0M702.3 847h0M702.6 871.6h0M702.8 898.9h0M702.2 924.4h0M702.4 949h0M702.3 973.7h0M701 1000.8h0M727.5 845.6h0M727.5 872.1h0M727.1 897.3h0M728.6 924h0M727.6 950.1h0M728.5 973.6h0M727.4 1001.7h0M751.7 847.4h0M752.6 871.9h0M753.9 897.9h0M754 923.9h0M753.4 947.9h0M752.8 975.9h0M751 1002.3h0M779.3 845.8h0M778 872.2h0M777.5 897h0M778.4 923.7h0M777.2 950h0M777.2 973.5h0M777.1 999.4h0M804.9 847.5h0M802 873.2h0M803.1 897.6h0M804.9 922.7h0M803.4 950.7h0M804.1 975h0M804.9 1001.9h0M828.9 844.9h0M828.6 872.4h0M828.7 896.9h0M829.1 923.2h0M829.7 949.4h0M830.4 976.5h0M829.5 1000.1h0M854.8 846.3h0M854.5 872.3h0M855.1 896.7h0M853.4 925h0M855.6 950.5h0M852.8 973.7h0M853.5 1000.7h0M879.9 846.5h0M879.3 871.8h0M878.8 897.2h0M880.5 924.6h0M878.3 948.1h0M880.7 975.5h0M880.6 1000h0M904.6 846.3h0M905.9 873.2h0M904.9 897.3h0M903.9 924.7h0M903.8 948h0M905.4 975.1h0M905.7 1000.3h0M931.3 846.7h0M929.9 870.8h0M930.1 898.4h0M930.2 922.3h0M931.3 949.5h0M931.9 976.5h0M931.9 1000.7h0M955.2 845.7h0M955.6 871.5h0M955.7 897.3h0M955.1 923.7h0M957 949.4h0M957.1 975.3h0M955 1001.7h0M983 846.6h0M982.5 870.5h0M981.6 898.6h0M980.2 922.2h0M982.3 950.6h0M980.2 975.5h0M980.4 1001.7h0M1006.6 845.6h0M1008.4 872.5h0M1006.9 897.8h0M1007.7 924.2h0M1008.3 949h0M1008 975.6h0M1008.1 1001.9h0"/></g>
<rect x="30.5" y="809" width="73.8" height="215" fill="url(#sg1)"/>
<rect x="83.5" y="809" width="940.5" height="23.8" fill="#FA6E3D"/>
<rect x="83.5" y="809" width="20.8" height="23.8" fill="#FB7A4E"/>
<path class="st" d="M94.5 823.6H1024 M97.5 827.8H1024"/>
<path class="st" d="M35.5 826H82.5"/>
<path class="sv" d="M96.5 834.8V1024 M101 834.8V1024"/>
<path class="sc" d="M87.2 810.6v4.4M87.2 818.9v4.4M87.2 827.2v4.4M92 810.6v4.4M92 818.9v4.4M92 827.2v4.4M96.6 810.6v4.4M96.6 818.9v4.4M96.6 827.2v4.4M101.2 810.6v4.4M101.2 818.9v4.4M101.2 827.2v4.4"/>
<rect x="319.3" y="832.8" width="10.3" height="191.2" fill="#FA6E3D"/>
<path class="sv" d="M321.8 834.3V1024 M326.3 834.3V1024"/>
<rect x="554.1" y="832.8" width="10.3" height="191.2" fill="#FA6E3D"/>
<path class="sv" d="M556.6 834.3V1024 M561.1 834.3V1024"/>
<rect x="805.8" y="832.8" width="10.3" height="132.4" fill="#FA6E3D"/>
<path class="sv" d="M808.3 834.3V965.2 M812.8 834.3V965.2"/>
<g>
<g filter="url(#fat180)"><g transform="translate(209.4 48.3) scale(0.585 1)"><text font-size="47" textLength="1033" lengthAdjust="spacing" class="ttl">SUITABLE FOR DIFFERENT HEIGHTS</text></g></g>
<g filter="url(#fat180)"><g transform="translate(318 90.9) scale(0.585 1)"><text font-size="47" textLength="660.2" lengthAdjust="spacing" class="ttl">ENJOY SPORTS FREELY</text></g></g>
<g filter="url(#idf)"><text x="148" y="126.1" font-size="33.6" textLength="727.8" lengthAdjust="spacingAndGlyphs" class="sub">The support pole has four adjustable heights.</text></g>
<circle cx="64.4" cy="175.8" r="24.6" fill="#F65F19"/>
<g filter="url(#fat100)"><g transform="translate(64.4 189.9) scale(.72 1)"><text font-size="41.5" class="num">1</text></g></g>
<g filter="url(#fat150)"><g transform="translate(101 175.8) scale(0.680 1)"><text font-size="37.8" textLength="96.1" lengthAdjust="spacing" class="big">5.1ft</text></g></g>
<g filter="url(#fat90)"><g transform="translate(178.7 175.8) scale(0.700 1)"><text font-size="28" textLength="155.8" lengthAdjust="spacing" class="big">(1555mm)</text></g></g>
<g filter="url(#fat40)"><g transform="translate(100.6 200.4) scale(0.730 1)"><text font-size="22.8" textLength="352.8" lengthAdjust="spacing" class="desc">suitable for outdoor badminton.</text></g></g>
<circle cx="64.4" cy="267.1" r="24.6" fill="#F65F19"/>
<g filter="url(#fat100)"><g transform="translate(64.4 281.2) scale(.72 1)"><text font-size="41.5" class="num">2</text></g></g>
<g filter="url(#fat150)"><g transform="translate(100.8 268.5) scale(0.680 1)"><text font-size="37.8" textLength="95.4" lengthAdjust="spacing" class="big">7.4ft</text></g></g>
<g filter="url(#fat90)"><g transform="translate(178 268.5) scale(0.700 1)"><text font-size="28" textLength="156.2" lengthAdjust="spacing" class="big">(2256mm)</text></g></g>
<g filter="url(#fat40)"><g transform="translate(100.6 293.1) scale(0.730 1)"><text font-size="22.8" textLength="388.1" lengthAdjust="spacing" class="desc">suitable for average female height.</text></g></g>
<circle cx="64.4" cy="358.7" r="24.6" fill="#F65F19"/>
<g filter="url(#fat100)"><g transform="translate(64.4 372.8) scale(.72 1)"><text font-size="41.5" class="num">3</text></g></g>
<g filter="url(#fat150)"><g transform="translate(101.1 359.5) scale(0.680 1)"><text font-size="37.8" textLength="94.9" lengthAdjust="spacing" class="big">7.8ft</text></g></g>
<g filter="url(#fat90)"><g transform="translate(178 359.5) scale(0.700 1)"><text font-size="28" textLength="156.5" lengthAdjust="spacing" class="big">(2377mm)</text></g></g>
<g filter="url(#fat40)"><g transform="translate(100.2 386.2) scale(0.730 1)"><text font-size="22.8" textLength="373.5" lengthAdjust="spacing" class="desc">mixed height for men and women.</text></g></g>
<circle cx="64.4" cy="450" r="24.6" fill="#F65F19"/>
<g filter="url(#fat100)"><g transform="translate(64.4 464.1) scale(.72 1)"><text font-size="41.5" class="num">4</text></g></g>
<g filter="url(#fat150)"><g transform="translate(101.4 449.8) scale(0.680 1)"><text font-size="37.8" textLength="56.6" lengthAdjust="spacing" class="big">8ft</text></g></g>
<g filter="url(#fat90)"><g transform="translate(151.4 449.8) scale(0.700 1)"><text font-size="28" textLength="156.8" lengthAdjust="spacing" class="big">(2438mm)</text></g></g>
<g filter="url(#fat40)"><g transform="translate(100.6 477.2) scale(0.730 1)"><text font-size="22.8" textLength="366.8" lengthAdjust="spacing" class="desc">suitable for average male height.</text></g></g>
<circle cx="115.7" cy="773" r="24.6" fill="#F65F19"/>
<g filter="url(#fat100)"><g transform="translate(115.7 787.1) scale(.72 1)"><text font-size="41.5" class="num">1</text></g></g>
<g filter="url(#fat150)"><g transform="translate(150.5 786.2) scale(0.680 1)"><text font-size="38.4" textLength="95.6" lengthAdjust="spacing" class="big">5.1ft</text></g></g>
<circle cx="340.7" cy="546" r="24.6" fill="#F65F19"/>
<g filter="url(#fat100)"><g transform="translate(340.7 560.1) scale(.72 1)"><text font-size="41.5" class="num">2</text></g></g>
<g filter="url(#fat150)"><g transform="translate(375 559.2) scale(0.680 1)"><text font-size="38.4" textLength="95" lengthAdjust="spacing" class="big">7.4ft</text></g></g>
<circle cx="582.7" cy="294.4" r="24.6" fill="#F65F19"/>
<g filter="url(#fat100)"><g transform="translate(582.7 308.5) scale(.72 1)"><text font-size="41.5" class="num">3</text></g></g>
<g filter="url(#fat150)"><g transform="translate(616.3 307.6) scale(0.680 1)"><text font-size="38.4" textLength="95" lengthAdjust="spacing" class="big">7.8ft</text></g></g>
<circle cx="833.6" cy="184.1" r="24.6" fill="#F65F19"/>
<g filter="url(#fat100)"><g transform="translate(833.6 198.2) scale(.72 1)"><text font-size="41.5" class="num">4</text></g></g>
<g filter="url(#fat150)"><g transform="translate(869 197.3) scale(0.680 1)"><text font-size="38.4" textLength="57.3" lengthAdjust="spacing" class="big">8ft</text></g></g>
</g>
</svg>
</body></html>
